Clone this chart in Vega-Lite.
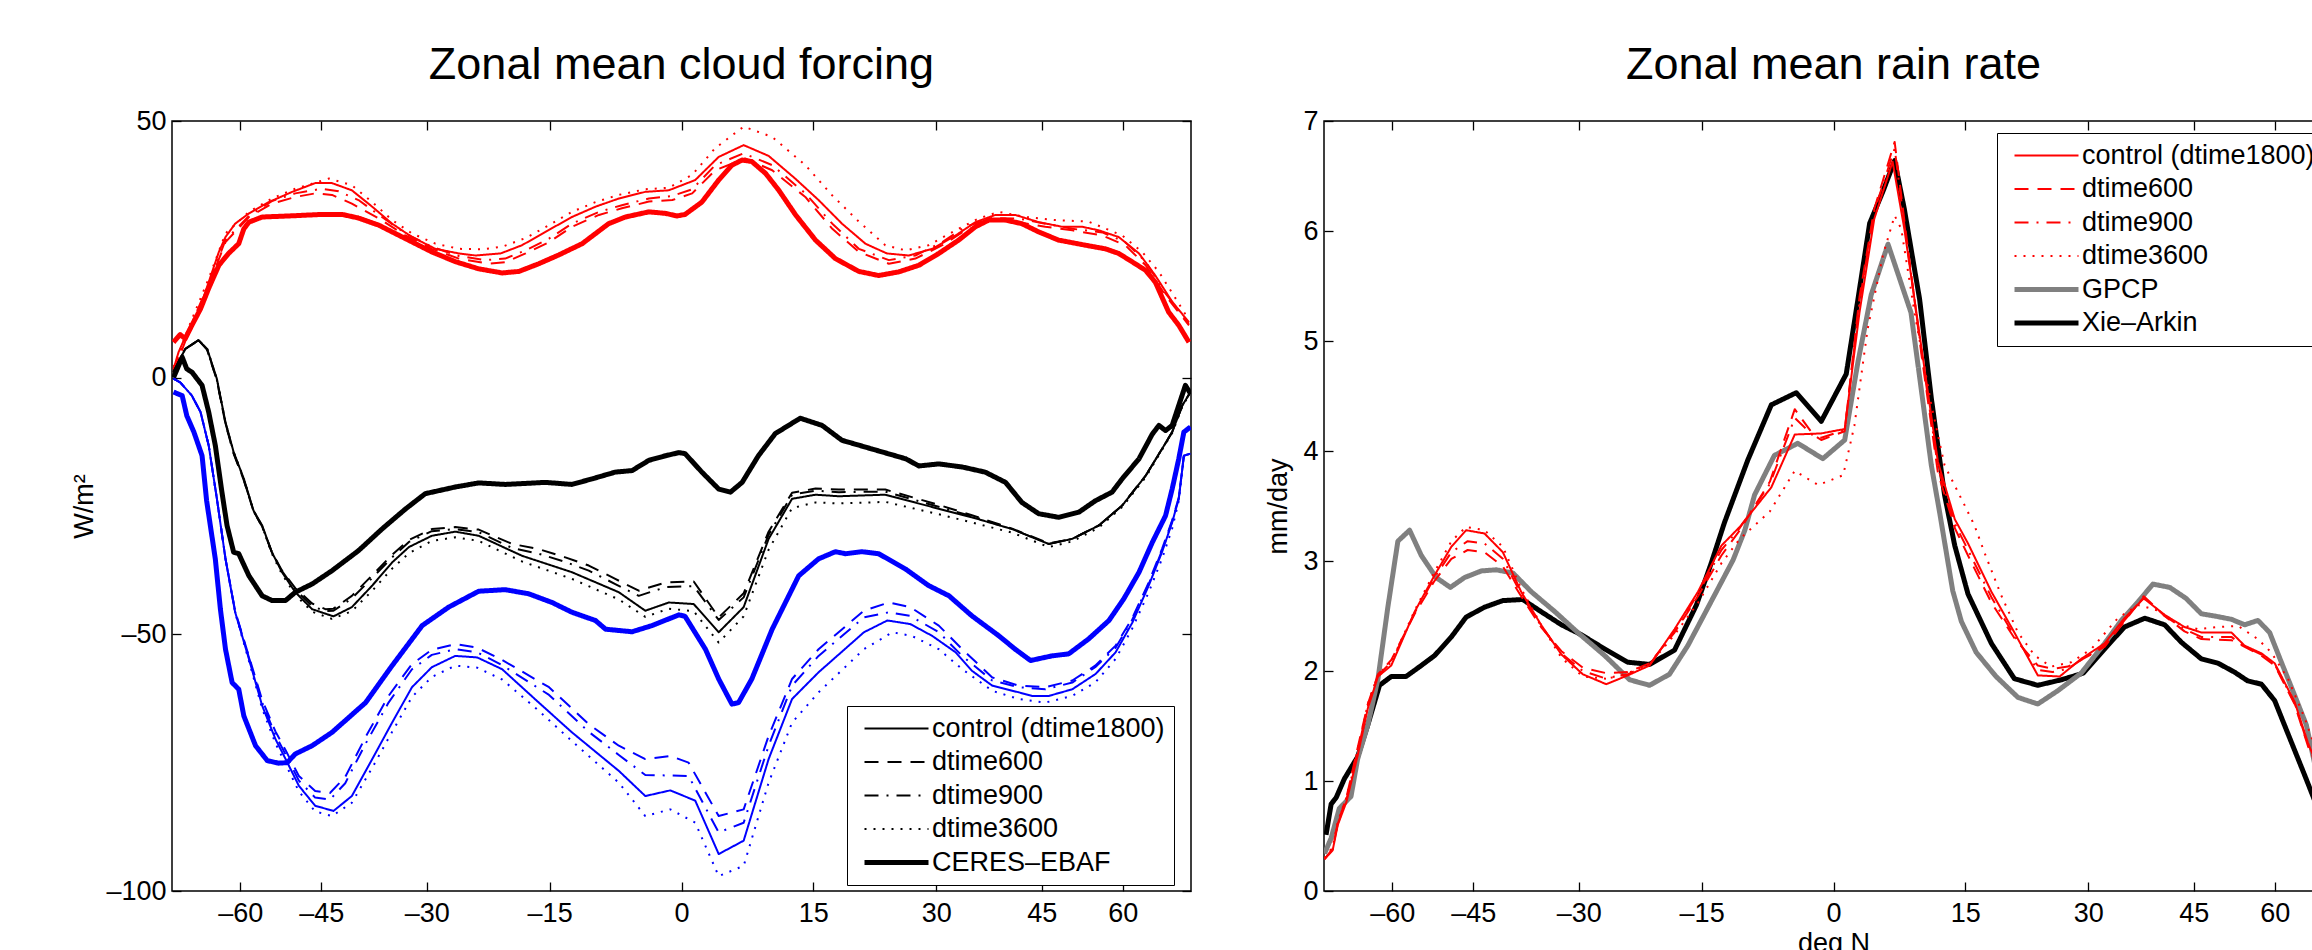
{
"$schema": "https://vega.github.io/schema/vega-lite/v6.json",
"background": "white",
"padding": {"left": 70, "top": 42, "right": 0, "bottom": 0},
"spacing": 133,
"bounds": "flush",
"resolve": {"scale": {"color": "independent", "strokeDash": "independent", "strokeWidth": "independent"}, "legend": {"color": "independent", "strokeDash": "independent", "strokeWidth": "independent"}},
"config": {
  "font": "Liberation Sans",
  "view": {"stroke": "black", "strokeWidth": 1.5},
  "axis": {"grid": false, "domain": false, "tickColor": "black", "tickWidth": 1.3, "tickSize": -9, "labelFont": "Liberation Sans", "labelFontSize": 27, "labelColor": "black", "titleFont": "Liberation Sans", "titleFontSize": 27, "titleFontWeight": "normal", "titleColor": "black", "labelOverlap": false, "labelFlush": false},
  "title": {"font": "Liberation Sans", "fontSize": 45, "fontWeight": "normal", "color": "black", "anchor": "middle", "offset": 19},
  "legend": {"orient": "none", "title": null, "symbolType": "stroke", "symbolSize": 4096, "labelFont": "Liberation Sans", "labelFontSize": 27, "labelColor": "black", "clipHeight": 27, "rowPadding": 5.5, "padding": 9, "strokeColor": "black", "fillColor": "white", "symbolOffset": 6, "labelOffset": 1, "labelLimit": 0}
},
"datasets": {
"cf": [
{"var":"LW","run":"CERES–EBAF","sin_lat":-0.997,"value":6.9},{"var":"LW","run":"CERES–EBAF","sin_lat":-0.984,"value":8.4},{"var":"LW","run":"CERES–EBAF","sin_lat":-0.974,"value":7.6},{"var":"LW","run":"CERES–EBAF","sin_lat":-0.961,"value":10.2},{"var":"LW","run":"CERES–EBAF","sin_lat":-0.944,"value":13.4},{"var":"LW","run":"CERES–EBAF","sin_lat":-0.928,"value":17.4},{"var":"LW","run":"CERES–EBAF","sin_lat":-0.908,"value":21.9},{"var":"LW","run":"CERES–EBAF","sin_lat":-0.889,"value":24.2},{"var":"LW","run":"CERES–EBAF","sin_lat":-0.869,"value":26.1},{"var":"LW","run":"CERES–EBAF","sin_lat":-0.859,"value":29.0},{"var":"LW","run":"CERES–EBAF","sin_lat":-0.849,"value":30.3},{"var":"LW","run":"CERES–EBAF","sin_lat":-0.823,"value":31.3},{"var":"LW","run":"CERES–EBAF","sin_lat":-0.771,"value":31.5},{"var":"LW","run":"CERES–EBAF","sin_lat":-0.706,"value":31.8},{"var":"LW","run":"CERES–EBAF","sin_lat":-0.666,"value":31.8},{"var":"LW","run":"CERES–EBAF","sin_lat":-0.634,"value":31.1},{"var":"LW","run":"CERES–EBAF","sin_lat":-0.594,"value":29.7},{"var":"LW","run":"CERES–EBAF","sin_lat":-0.542,"value":27.1},{"var":"LW","run":"CERES–EBAF","sin_lat":-0.490,"value":24.5},{"var":"LW","run":"CERES–EBAF","sin_lat":-0.444,"value":22.6},{"var":"LW","run":"CERES–EBAF","sin_lat":-0.398,"value":21.2},{"var":"LW","run":"CERES–EBAF","sin_lat":-0.352,"value":20.4},{"var":"LW","run":"CERES–EBAF","sin_lat":-0.319,"value":20.7},{"var":"LW","run":"CERES–EBAF","sin_lat":-0.280,"value":22.2},{"var":"LW","run":"CERES–EBAF","sin_lat":-0.241,"value":23.9},{"var":"LW","run":"CERES–EBAF","sin_lat":-0.195,"value":26.1},{"var":"LW","run":"CERES–EBAF","sin_lat":-0.143,"value":30.0},{"var":"LW","run":"CERES–EBAF","sin_lat":-0.110,"value":31.3},{"var":"LW","run":"CERES–EBAF","sin_lat":-0.064,"value":32.3},{"var":"LW","run":"CERES–EBAF","sin_lat":-0.031,"value":32.0},{"var":"LW","run":"CERES–EBAF","sin_lat":-0.009,"value":31.5},{"var":"LW","run":"CERES–EBAF","sin_lat":0.007,"value":31.8},{"var":"LW","run":"CERES–EBAF","sin_lat":0.040,"value":34.2},{"var":"LW","run":"CERES–EBAF","sin_lat":0.073,"value":38.5},{"var":"LW","run":"CERES–EBAF","sin_lat":0.099,"value":41.4},{"var":"LW","run":"CERES–EBAF","sin_lat":0.119,"value":42.4},{"var":"LW","run":"CERES–EBAF","sin_lat":0.138,"value":42.1},{"var":"LW","run":"CERES–EBAF","sin_lat":0.165,"value":39.8},{"var":"LW","run":"CERES–EBAF","sin_lat":0.191,"value":36.5},{"var":"LW","run":"CERES–EBAF","sin_lat":0.224,"value":31.7},{"var":"LW","run":"CERES–EBAF","sin_lat":0.263,"value":26.8},{"var":"LW","run":"CERES–EBAF","sin_lat":0.302,"value":23.2},{"var":"LW","run":"CERES–EBAF","sin_lat":0.348,"value":20.7},{"var":"LW","run":"CERES–EBAF","sin_lat":0.387,"value":19.9},{"var":"LW","run":"CERES–EBAF","sin_lat":0.426,"value":20.6},{"var":"LW","run":"CERES–EBAF","sin_lat":0.466,"value":21.9},{"var":"LW","run":"CERES–EBAF","sin_lat":0.505,"value":24.2},{"var":"LW","run":"CERES–EBAF","sin_lat":0.544,"value":26.8},{"var":"LW","run":"CERES–EBAF","sin_lat":0.577,"value":29.4},{"var":"LW","run":"CERES–EBAF","sin_lat":0.603,"value":30.7},{"var":"LW","run":"CERES–EBAF","sin_lat":0.636,"value":30.7},{"var":"LW","run":"CERES–EBAF","sin_lat":0.668,"value":30.0},{"var":"LW","run":"CERES–EBAF","sin_lat":0.701,"value":28.4},{"var":"LW","run":"CERES–EBAF","sin_lat":0.740,"value":26.8},{"var":"LW","run":"CERES–EBAF","sin_lat":0.793,"value":25.8},{"var":"LW","run":"CERES–EBAF","sin_lat":0.832,"value":25.1},{"var":"LW","run":"CERES–EBAF","sin_lat":0.858,"value":24.2},{"var":"LW","run":"CERES–EBAF","sin_lat":0.884,"value":22.6},{"var":"LW","run":"CERES–EBAF","sin_lat":0.911,"value":20.9},{"var":"LW","run":"CERES–EBAF","sin_lat":0.930,"value":18.6},{"var":"LW","run":"CERES–EBAF","sin_lat":0.956,"value":12.8},{"var":"LW","run":"CERES–EBAF","sin_lat":0.976,"value":10.2},{"var":"LW","run":"CERES–EBAF","sin_lat":0.996,"value":6.9},
{"var":"LW","run":"control (dtime1800)","sin_lat":-0.997,"value":1.7},{"var":"LW","run":"control (dtime1800)","sin_lat":-0.987,"value":5.0},{"var":"LW","run":"control (dtime1800)","sin_lat":-0.967,"value":9.5},{"var":"LW","run":"control (dtime1800)","sin_lat":-0.948,"value":12.8},{"var":"LW","run":"control (dtime1800)","sin_lat":-0.928,"value":18.6},{"var":"LW","run":"control (dtime1800)","sin_lat":-0.908,"value":24.5},{"var":"LW","run":"control (dtime1800)","sin_lat":-0.895,"value":27.4},{"var":"LW","run":"control (dtime1800)","sin_lat":-0.876,"value":30.0},{"var":"LW","run":"control (dtime1800)","sin_lat":-0.849,"value":32.0},{"var":"LW","run":"control (dtime1800)","sin_lat":-0.810,"value":34.2},{"var":"LW","run":"control (dtime1800)","sin_lat":-0.764,"value":36.2},{"var":"LW","run":"control (dtime1800)","sin_lat":-0.719,"value":37.9},{"var":"LW","run":"control (dtime1800)","sin_lat":-0.686,"value":37.9},{"var":"LW","run":"control (dtime1800)","sin_lat":-0.647,"value":36.5},{"var":"LW","run":"control (dtime1800)","sin_lat":-0.607,"value":33.3},{"var":"LW","run":"control (dtime1800)","sin_lat":-0.568,"value":30.0},{"var":"LW","run":"control (dtime1800)","sin_lat":-0.529,"value":27.4},{"var":"LW","run":"control (dtime1800)","sin_lat":-0.483,"value":25.1},{"var":"LW","run":"control (dtime1800)","sin_lat":-0.437,"value":24.2},{"var":"LW","run":"control (dtime1800)","sin_lat":-0.404,"value":23.8},{"var":"LW","run":"control (dtime1800)","sin_lat":-0.355,"value":24.2},{"var":"LW","run":"control (dtime1800)","sin_lat":-0.313,"value":25.8},{"var":"LW","run":"control (dtime1800)","sin_lat":-0.267,"value":28.4},{"var":"LW","run":"control (dtime1800)","sin_lat":-0.215,"value":31.3},{"var":"LW","run":"control (dtime1800)","sin_lat":-0.169,"value":33.3},{"var":"LW","run":"control (dtime1800)","sin_lat":-0.123,"value":34.9},{"var":"LW","run":"control (dtime1800)","sin_lat":-0.071,"value":36.2},{"var":"LW","run":"control (dtime1800)","sin_lat":-0.025,"value":36.5},{"var":"LW","run":"control (dtime1800)","sin_lat":0.027,"value":38.5},{"var":"LW","run":"control (dtime1800)","sin_lat":0.073,"value":43.0},{"var":"LW","run":"control (dtime1800)","sin_lat":0.122,"value":45.3},{"var":"LW","run":"control (dtime1800)","sin_lat":0.171,"value":43.2},{"var":"LW","run":"control (dtime1800)","sin_lat":0.223,"value":38.8},{"var":"LW","run":"control (dtime1800)","sin_lat":0.269,"value":34.6},{"var":"LW","run":"control (dtime1800)","sin_lat":0.315,"value":30.0},{"var":"LW","run":"control (dtime1800)","sin_lat":0.361,"value":26.1},{"var":"LW","run":"control (dtime1800)","sin_lat":0.403,"value":24.2},{"var":"LW","run":"control (dtime1800)","sin_lat":0.446,"value":23.8},{"var":"LW","run":"control (dtime1800)","sin_lat":0.492,"value":25.1},{"var":"LW","run":"control (dtime1800)","sin_lat":0.538,"value":27.7},{"var":"LW","run":"control (dtime1800)","sin_lat":0.577,"value":30.3},{"var":"LW","run":"control (dtime1800)","sin_lat":0.616,"value":31.7},{"var":"LW","run":"control (dtime1800)","sin_lat":0.655,"value":31.7},{"var":"LW","run":"control (dtime1800)","sin_lat":0.701,"value":30.3},{"var":"LW","run":"control (dtime1800)","sin_lat":0.747,"value":29.4},{"var":"LW","run":"control (dtime1800)","sin_lat":0.786,"value":29.4},{"var":"LW","run":"control (dtime1800)","sin_lat":0.819,"value":28.7},{"var":"LW","run":"control (dtime1800)","sin_lat":0.858,"value":27.4},{"var":"LW","run":"control (dtime1800)","sin_lat":0.898,"value":24.2},{"var":"LW","run":"control (dtime1800)","sin_lat":0.930,"value":19.9},{"var":"LW","run":"control (dtime1800)","sin_lat":0.963,"value":14.8},{"var":"LW","run":"control (dtime1800)","sin_lat":0.996,"value":10.8},
{"var":"LW","run":"dtime600","sin_lat":-0.997,"value":1.1},{"var":"LW","run":"dtime600","sin_lat":-0.967,"value":8.9},{"var":"LW","run":"dtime600","sin_lat":-0.928,"value":18.0},{"var":"LW","run":"dtime600","sin_lat":-0.895,"value":26.4},{"var":"LW","run":"dtime600","sin_lat":-0.849,"value":31.3},{"var":"LW","run":"dtime600","sin_lat":-0.804,"value":33.9},{"var":"LW","run":"dtime600","sin_lat":-0.758,"value":35.2},{"var":"LW","run":"dtime600","sin_lat":-0.719,"value":35.9},{"var":"LW","run":"dtime600","sin_lat":-0.686,"value":35.6},{"var":"LW","run":"dtime600","sin_lat":-0.647,"value":33.9},{"var":"LW","run":"dtime600","sin_lat":-0.594,"value":31.0},{"var":"LW","run":"dtime600","sin_lat":-0.542,"value":27.7},{"var":"LW","run":"dtime600","sin_lat":-0.490,"value":25.1},{"var":"LW","run":"dtime600","sin_lat":-0.437,"value":23.2},{"var":"LW","run":"dtime600","sin_lat":-0.378,"value":22.2},{"var":"LW","run":"dtime600","sin_lat":-0.346,"value":22.5},{"var":"LW","run":"dtime600","sin_lat":-0.306,"value":24.2},{"var":"LW","run":"dtime600","sin_lat":-0.260,"value":26.4},{"var":"LW","run":"dtime600","sin_lat":-0.215,"value":29.4},{"var":"LW","run":"dtime600","sin_lat":-0.162,"value":31.7},{"var":"LW","run":"dtime600","sin_lat":-0.117,"value":33.0},{"var":"LW","run":"dtime600","sin_lat":-0.064,"value":34.3},{"var":"LW","run":"dtime600","sin_lat":-0.018,"value":34.6},{"var":"LW","run":"dtime600","sin_lat":0.021,"value":35.9},{"var":"LW","run":"dtime600","sin_lat":0.066,"value":40.4},{"var":"LW","run":"dtime600","sin_lat":0.125,"value":42.7},{"var":"LW","run":"dtime600","sin_lat":0.178,"value":40.4},{"var":"LW","run":"dtime600","sin_lat":0.243,"value":35.2},{"var":"LW","run":"dtime600","sin_lat":0.296,"value":29.0},{"var":"LW","run":"dtime600","sin_lat":0.348,"value":24.5},{"var":"LW","run":"dtime600","sin_lat":0.407,"value":22.2},{"var":"LW","run":"dtime600","sin_lat":0.459,"value":23.2},{"var":"LW","run":"dtime600","sin_lat":0.512,"value":25.8},{"var":"LW","run":"dtime600","sin_lat":0.557,"value":28.7},{"var":"LW","run":"dtime600","sin_lat":0.610,"value":30.7},{"var":"LW","run":"dtime600","sin_lat":0.662,"value":30.3},{"var":"LW","run":"dtime600","sin_lat":0.714,"value":29.4},{"var":"LW","run":"dtime600","sin_lat":0.767,"value":28.7},{"var":"LW","run":"dtime600","sin_lat":0.826,"value":27.7},{"var":"LW","run":"dtime600","sin_lat":0.871,"value":25.8},{"var":"LW","run":"dtime600","sin_lat":0.911,"value":21.9},{"var":"LW","run":"dtime600","sin_lat":0.950,"value":16.0},{"var":"LW","run":"dtime600","sin_lat":0.996,"value":10.2},
{"var":"LW","run":"dtime900","sin_lat":-0.997,"value":1.4},{"var":"LW","run":"dtime900","sin_lat":-0.967,"value":9.2},{"var":"LW","run":"dtime900","sin_lat":-0.928,"value":18.3},{"var":"LW","run":"dtime900","sin_lat":-0.895,"value":26.8},{"var":"LW","run":"dtime900","sin_lat":-0.849,"value":31.5},{"var":"LW","run":"dtime900","sin_lat":-0.804,"value":34.4},{"var":"LW","run":"dtime900","sin_lat":-0.758,"value":35.9},{"var":"LW","run":"dtime900","sin_lat":-0.706,"value":36.8},{"var":"LW","run":"dtime900","sin_lat":-0.673,"value":36.3},{"var":"LW","run":"dtime900","sin_lat":-0.634,"value":34.6},{"var":"LW","run":"dtime900","sin_lat":-0.588,"value":31.3},{"var":"LW","run":"dtime900","sin_lat":-0.542,"value":28.1},{"var":"LW","run":"dtime900","sin_lat":-0.490,"value":25.5},{"var":"LW","run":"dtime900","sin_lat":-0.437,"value":23.7},{"var":"LW","run":"dtime900","sin_lat":-0.385,"value":22.9},{"var":"LW","run":"dtime900","sin_lat":-0.346,"value":23.2},{"var":"LW","run":"dtime900","sin_lat":-0.306,"value":24.8},{"var":"LW","run":"dtime900","sin_lat":-0.260,"value":27.1},{"var":"LW","run":"dtime900","sin_lat":-0.215,"value":30.0},{"var":"LW","run":"dtime900","sin_lat":-0.162,"value":32.3},{"var":"LW","run":"dtime900","sin_lat":-0.117,"value":33.6},{"var":"LW","run":"dtime900","sin_lat":-0.064,"value":34.9},{"var":"LW","run":"dtime900","sin_lat":-0.018,"value":35.4},{"var":"LW","run":"dtime900","sin_lat":0.021,"value":36.7},{"var":"LW","run":"dtime900","sin_lat":0.066,"value":41.4},{"var":"LW","run":"dtime900","sin_lat":0.122,"value":43.7},{"var":"LW","run":"dtime900","sin_lat":0.178,"value":41.4},{"var":"LW","run":"dtime900","sin_lat":0.243,"value":35.9},{"var":"LW","run":"dtime900","sin_lat":0.296,"value":30.0},{"var":"LW","run":"dtime900","sin_lat":0.348,"value":25.1},{"var":"LW","run":"dtime900","sin_lat":0.407,"value":22.9},{"var":"LW","run":"dtime900","sin_lat":0.459,"value":23.8},{"var":"LW","run":"dtime900","sin_lat":0.512,"value":26.4},{"var":"LW","run":"dtime900","sin_lat":0.557,"value":29.4},{"var":"LW","run":"dtime900","sin_lat":0.610,"value":31.1},{"var":"LW","run":"dtime900","sin_lat":0.662,"value":31.0},{"var":"LW","run":"dtime900","sin_lat":0.714,"value":30.0},{"var":"LW","run":"dtime900","sin_lat":0.767,"value":29.0},{"var":"LW","run":"dtime900","sin_lat":0.826,"value":28.3},{"var":"LW","run":"dtime900","sin_lat":0.871,"value":26.4},{"var":"LW","run":"dtime900","sin_lat":0.911,"value":22.6},{"var":"LW","run":"dtime900","sin_lat":0.950,"value":16.4},{"var":"LW","run":"dtime900","sin_lat":0.996,"value":10.5},
{"var":"LW","run":"dtime3600","sin_lat":-0.997,"value":2.1},{"var":"LW","run":"dtime3600","sin_lat":-0.967,"value":9.9},{"var":"LW","run":"dtime3600","sin_lat":-0.928,"value":19.3},{"var":"LW","run":"dtime3600","sin_lat":-0.895,"value":28.1},{"var":"LW","run":"dtime3600","sin_lat":-0.849,"value":32.3},{"var":"LW","run":"dtime3600","sin_lat":-0.804,"value":34.9},{"var":"LW","run":"dtime3600","sin_lat":-0.758,"value":36.8},{"var":"LW","run":"dtime3600","sin_lat":-0.692,"value":38.8},{"var":"LW","run":"dtime3600","sin_lat":-0.647,"value":37.5},{"var":"LW","run":"dtime3600","sin_lat":-0.607,"value":34.2},{"var":"LW","run":"dtime3600","sin_lat":-0.568,"value":30.7},{"var":"LW","run":"dtime3600","sin_lat":-0.529,"value":28.1},{"var":"LW","run":"dtime3600","sin_lat":-0.483,"value":26.1},{"var":"LW","run":"dtime3600","sin_lat":-0.437,"value":25.1},{"var":"LW","run":"dtime3600","sin_lat":-0.391,"value":25.0},{"var":"LW","run":"dtime3600","sin_lat":-0.352,"value":25.5},{"var":"LW","run":"dtime3600","sin_lat":-0.306,"value":27.2},{"var":"LW","run":"dtime3600","sin_lat":-0.260,"value":29.7},{"var":"LW","run":"dtime3600","sin_lat":-0.215,"value":32.3},{"var":"LW","run":"dtime3600","sin_lat":-0.169,"value":34.2},{"var":"LW","run":"dtime3600","sin_lat":-0.123,"value":35.6},{"var":"LW","run":"dtime3600","sin_lat":-0.071,"value":36.7},{"var":"LW","run":"dtime3600","sin_lat":-0.025,"value":37.0},{"var":"LW","run":"dtime3600","sin_lat":0.021,"value":39.5},{"var":"LW","run":"dtime3600","sin_lat":0.066,"value":44.7},{"var":"LW","run":"dtime3600","sin_lat":0.122,"value":48.9},{"var":"LW","run":"dtime3600","sin_lat":0.178,"value":46.9},{"var":"LW","run":"dtime3600","sin_lat":0.243,"value":41.4},{"var":"LW","run":"dtime3600","sin_lat":0.295,"value":35.6},{"var":"LW","run":"dtime3600","sin_lat":0.348,"value":30.4},{"var":"LW","run":"dtime3600","sin_lat":0.400,"value":25.8},{"var":"LW","run":"dtime3600","sin_lat":0.440,"value":24.8},{"var":"LW","run":"dtime3600","sin_lat":0.485,"value":25.8},{"var":"LW","run":"dtime3600","sin_lat":0.538,"value":28.7},{"var":"LW","run":"dtime3600","sin_lat":0.583,"value":31.0},{"var":"LW","run":"dtime3600","sin_lat":0.623,"value":32.3},{"var":"LW","run":"dtime3600","sin_lat":0.675,"value":31.3},{"var":"LW","run":"dtime3600","sin_lat":0.734,"value":30.7},{"var":"LW","run":"dtime3600","sin_lat":0.799,"value":30.4},{"var":"LW","run":"dtime3600","sin_lat":0.865,"value":27.7},{"var":"LW","run":"dtime3600","sin_lat":0.904,"value":24.5},{"var":"LW","run":"dtime3600","sin_lat":0.937,"value":20.6},{"var":"LW","run":"dtime3600","sin_lat":0.970,"value":15.4},{"var":"LW","run":"dtime3600","sin_lat":0.996,"value":11.2},
{"var":"net","run":"CERES–EBAF","sin_lat":-0.997,"value":0.0},{"var":"net","run":"CERES–EBAF","sin_lat":-0.980,"value":4.0},{"var":"net","run":"CERES–EBAF","sin_lat":-0.971,"value":1.7},{"var":"net","run":"CERES–EBAF","sin_lat":-0.961,"value":1.1},{"var":"net","run":"CERES–EBAF","sin_lat":-0.941,"value":-1.5},{"var":"net","run":"CERES–EBAF","sin_lat":-0.928,"value":-6.7},{"var":"net","run":"CERES–EBAF","sin_lat":-0.915,"value":-13.2},{"var":"net","run":"CERES–EBAF","sin_lat":-0.902,"value":-22.3},{"var":"net","run":"CERES–EBAF","sin_lat":-0.892,"value":-28.8},{"var":"net","run":"CERES–EBAF","sin_lat":-0.879,"value":-34.0},{"var":"net","run":"CERES–EBAF","sin_lat":-0.869,"value":-34.3},{"var":"net","run":"CERES–EBAF","sin_lat":-0.849,"value":-38.6},{"var":"net","run":"CERES–EBAF","sin_lat":-0.823,"value":-42.5},{"var":"net","run":"CERES–EBAF","sin_lat":-0.804,"value":-43.4},{"var":"net","run":"CERES–EBAF","sin_lat":-0.777,"value":-43.4},{"var":"net","run":"CERES–EBAF","sin_lat":-0.758,"value":-41.8},{"var":"net","run":"CERES–EBAF","sin_lat":-0.725,"value":-40.2},{"var":"net","run":"CERES–EBAF","sin_lat":-0.686,"value":-37.6},{"var":"net","run":"CERES–EBAF","sin_lat":-0.634,"value":-33.7},{"var":"net","run":"CERES–EBAF","sin_lat":-0.588,"value":-29.5},{"var":"net","run":"CERES–EBAF","sin_lat":-0.542,"value":-25.6},{"var":"net","run":"CERES–EBAF","sin_lat":-0.503,"value":-22.6},{"var":"net","run":"CERES–EBAF","sin_lat":-0.444,"value":-21.3},{"var":"net","run":"CERES–EBAF","sin_lat":-0.398,"value":-20.5},{"var":"net","run":"CERES–EBAF","sin_lat":-0.346,"value":-20.8},{"var":"net","run":"CERES–EBAF","sin_lat":-0.267,"value":-20.4},{"var":"net","run":"CERES–EBAF","sin_lat":-0.215,"value":-20.8},{"var":"net","run":"CERES–EBAF","sin_lat":-0.175,"value":-19.7},{"var":"net","run":"CERES–EBAF","sin_lat":-0.130,"value":-18.4},{"var":"net","run":"CERES–EBAF","sin_lat":-0.097,"value":-18.1},{"var":"net","run":"CERES–EBAF","sin_lat":-0.064,"value":-16.1},{"var":"net","run":"CERES–EBAF","sin_lat":-0.031,"value":-15.2},{"var":"net","run":"CERES–EBAF","sin_lat":-0.005,"value":-14.6},{"var":"net","run":"CERES–EBAF","sin_lat":0.007,"value":-14.8},{"var":"net","run":"CERES–EBAF","sin_lat":0.040,"value":-18.4},{"var":"net","run":"CERES–EBAF","sin_lat":0.073,"value":-21.7},{"var":"net","run":"CERES–EBAF","sin_lat":0.096,"value":-22.3},{"var":"net","run":"CERES–EBAF","sin_lat":0.119,"value":-20.4},{"var":"net","run":"CERES–EBAF","sin_lat":0.151,"value":-15.2},{"var":"net","run":"CERES–EBAF","sin_lat":0.184,"value":-10.9},{"var":"net","run":"CERES–EBAF","sin_lat":0.233,"value":-7.9},{"var":"net","run":"CERES–EBAF","sin_lat":0.276,"value":-9.3},{"var":"net","run":"CERES–EBAF","sin_lat":0.315,"value":-12.2},{"var":"net","run":"CERES–EBAF","sin_lat":0.374,"value":-13.9},{"var":"net","run":"CERES–EBAF","sin_lat":0.440,"value":-15.8},{"var":"net","run":"CERES–EBAF","sin_lat":0.466,"value":-17.2},{"var":"net","run":"CERES–EBAF","sin_lat":0.505,"value":-16.8},{"var":"net","run":"CERES–EBAF","sin_lat":0.551,"value":-17.4},{"var":"net","run":"CERES–EBAF","sin_lat":0.596,"value":-18.4},{"var":"net","run":"CERES–EBAF","sin_lat":0.636,"value":-20.4},{"var":"net","run":"CERES–EBAF","sin_lat":0.668,"value":-24.3},{"var":"net","run":"CERES–EBAF","sin_lat":0.701,"value":-26.5},{"var":"net","run":"CERES–EBAF","sin_lat":0.740,"value":-27.2},{"var":"net","run":"CERES–EBAF","sin_lat":0.780,"value":-26.2},{"var":"net","run":"CERES–EBAF","sin_lat":0.812,"value":-24.0},{"var":"net","run":"CERES–EBAF","sin_lat":0.845,"value":-22.3},{"var":"net","run":"CERES–EBAF","sin_lat":0.865,"value":-19.7},{"var":"net","run":"CERES–EBAF","sin_lat":0.898,"value":-15.8},{"var":"net","run":"CERES–EBAF","sin_lat":0.924,"value":-11.0},{"var":"net","run":"CERES–EBAF","sin_lat":0.937,"value":-9.3},{"var":"net","run":"CERES–EBAF","sin_lat":0.950,"value":-10.3},{"var":"net","run":"CERES–EBAF","sin_lat":0.963,"value":-9.3},{"var":"net","run":"CERES–EBAF","sin_lat":0.976,"value":-5.4},{"var":"net","run":"CERES–EBAF","sin_lat":0.989,"value":-1.5},{"var":"net","run":"CERES–EBAF","sin_lat":0.999,"value":-3.1},
{"var":"net","run":"control (dtime1800)","sin_lat":-0.997,"value":1.1},{"var":"net","run":"control (dtime1800)","sin_lat":-0.974,"value":5.6},{"var":"net","run":"control (dtime1800)","sin_lat":-0.948,"value":7.3},{"var":"net","run":"control (dtime1800)","sin_lat":-0.931,"value":5.6},{"var":"net","run":"control (dtime1800)","sin_lat":-0.912,"value":-0.2},{"var":"net","run":"control (dtime1800)","sin_lat":-0.895,"value":-8.7},{"var":"net","run":"control (dtime1800)","sin_lat":-0.879,"value":-14.5},{"var":"net","run":"control (dtime1800)","sin_lat":-0.859,"value":-19.7},{"var":"net","run":"control (dtime1800)","sin_lat":-0.840,"value":-25.9},{"var":"net","run":"control (dtime1800)","sin_lat":-0.823,"value":-28.8},{"var":"net","run":"control (dtime1800)","sin_lat":-0.804,"value":-34.0},{"var":"net","run":"control (dtime1800)","sin_lat":-0.784,"value":-37.9},{"var":"net","run":"control (dtime1800)","sin_lat":-0.758,"value":-41.8},{"var":"net","run":"control (dtime1800)","sin_lat":-0.725,"value":-45.1},{"var":"net","run":"control (dtime1800)","sin_lat":-0.683,"value":-46.5},{"var":"net","run":"control (dtime1800)","sin_lat":-0.647,"value":-44.7},{"var":"net","run":"control (dtime1800)","sin_lat":-0.607,"value":-40.5},{"var":"net","run":"control (dtime1800)","sin_lat":-0.568,"value":-36.0},{"var":"net","run":"control (dtime1800)","sin_lat":-0.535,"value":-33.0},{"var":"net","run":"control (dtime1800)","sin_lat":-0.490,"value":-30.8},{"var":"net","run":"control (dtime1800)","sin_lat":-0.444,"value":-30.0},{"var":"net","run":"control (dtime1800)","sin_lat":-0.398,"value":-30.8},{"var":"net","run":"control (dtime1800)","sin_lat":-0.313,"value":-34.7},{"var":"net","run":"control (dtime1800)","sin_lat":-0.215,"value":-37.9},{"var":"net","run":"control (dtime1800)","sin_lat":-0.123,"value":-41.8},{"var":"net","run":"control (dtime1800)","sin_lat":-0.071,"value":-45.4},{"var":"net","run":"control (dtime1800)","sin_lat":-0.025,"value":-43.8},{"var":"net","run":"control (dtime1800)","sin_lat":0.024,"value":-44.1},{"var":"net","run":"control (dtime1800)","sin_lat":0.073,"value":-49.6},{"var":"net","run":"control (dtime1800)","sin_lat":0.122,"value":-44.7},{"var":"net","run":"control (dtime1800)","sin_lat":0.171,"value":-31.4},{"var":"net","run":"control (dtime1800)","sin_lat":0.217,"value":-23.6},{"var":"net","run":"control (dtime1800)","sin_lat":0.263,"value":-22.8},{"var":"net","run":"control (dtime1800)","sin_lat":0.309,"value":-23.1},{"var":"net","run":"control (dtime1800)","sin_lat":0.400,"value":-22.8},{"var":"net","run":"control (dtime1800)","sin_lat":0.492,"value":-25.2},{"var":"net","run":"control (dtime1800)","sin_lat":0.570,"value":-27.2},{"var":"net","run":"control (dtime1800)","sin_lat":0.649,"value":-29.5},{"var":"net","run":"control (dtime1800)","sin_lat":0.721,"value":-32.4},{"var":"net","run":"control (dtime1800)","sin_lat":0.767,"value":-31.4},{"var":"net","run":"control (dtime1800)","sin_lat":0.819,"value":-28.8},{"var":"net","run":"control (dtime1800)","sin_lat":0.865,"value":-24.9},{"var":"net","run":"control (dtime1800)","sin_lat":0.911,"value":-19.1},{"var":"net","run":"control (dtime1800)","sin_lat":0.943,"value":-13.9},{"var":"net","run":"control (dtime1800)","sin_lat":0.963,"value":-10.6},{"var":"net","run":"control (dtime1800)","sin_lat":0.983,"value":-5.4},{"var":"net","run":"control (dtime1800)","sin_lat":0.999,"value":-2.8},
{"var":"net","run":"dtime600","sin_lat":-0.997,"value":1.1},{"var":"net","run":"dtime600","sin_lat":-0.974,"value":5.6},{"var":"net","run":"dtime600","sin_lat":-0.948,"value":7.3},{"var":"net","run":"dtime600","sin_lat":-0.931,"value":5.4},{"var":"net","run":"dtime600","sin_lat":-0.912,"value":-0.5},{"var":"net","run":"dtime600","sin_lat":-0.895,"value":-9.0},{"var":"net","run":"dtime600","sin_lat":-0.879,"value":-14.8},{"var":"net","run":"dtime600","sin_lat":-0.859,"value":-20.0},{"var":"net","run":"dtime600","sin_lat":-0.840,"value":-26.0},{"var":"net","run":"dtime600","sin_lat":-0.823,"value":-29.0},{"var":"net","run":"dtime600","sin_lat":-0.804,"value":-34.0},{"var":"net","run":"dtime600","sin_lat":-0.784,"value":-37.6},{"var":"net","run":"dtime600","sin_lat":-0.758,"value":-41.0},{"var":"net","run":"dtime600","sin_lat":-0.725,"value":-44.0},{"var":"net","run":"dtime600","sin_lat":-0.699,"value":-45.1},{"var":"net","run":"dtime600","sin_lat":-0.683,"value":-45.0},{"var":"net","run":"dtime600","sin_lat":-0.647,"value":-42.5},{"var":"net","run":"dtime600","sin_lat":-0.607,"value":-38.5},{"var":"net","run":"dtime600","sin_lat":-0.568,"value":-34.5},{"var":"net","run":"dtime600","sin_lat":-0.535,"value":-31.6},{"var":"net","run":"dtime600","sin_lat":-0.490,"value":-29.5},{"var":"net","run":"dtime600","sin_lat":-0.444,"value":-29.1},{"var":"net","run":"dtime600","sin_lat":-0.398,"value":-29.6},{"var":"net","run":"dtime600","sin_lat":-0.332,"value":-32.4},{"var":"net","run":"dtime600","sin_lat":-0.280,"value":-33.4},{"var":"net","run":"dtime600","sin_lat":-0.228,"value":-35.0},{"var":"net","run":"dtime600","sin_lat":-0.182,"value":-36.6},{"var":"net","run":"dtime600","sin_lat":-0.130,"value":-39.2},{"var":"net","run":"dtime600","sin_lat":-0.084,"value":-41.5},{"var":"net","run":"dtime600","sin_lat":-0.031,"value":-39.9},{"var":"net","run":"dtime600","sin_lat":0.024,"value":-39.7},{"var":"net","run":"dtime600","sin_lat":0.073,"value":-46.7},{"var":"net","run":"dtime600","sin_lat":0.122,"value":-42.0},{"var":"net","run":"dtime600","sin_lat":0.171,"value":-30.0},{"var":"net","run":"dtime600","sin_lat":0.217,"value":-22.4},{"var":"net","run":"dtime600","sin_lat":0.263,"value":-21.6},{"var":"net","run":"dtime600","sin_lat":0.309,"value":-21.8},{"var":"net","run":"dtime600","sin_lat":0.400,"value":-21.8},{"var":"net","run":"dtime600","sin_lat":0.492,"value":-24.4},{"var":"net","run":"dtime600","sin_lat":0.570,"value":-26.8},{"var":"net","run":"dtime600","sin_lat":0.649,"value":-29.4},{"var":"net","run":"dtime600","sin_lat":0.721,"value":-32.3},{"var":"net","run":"dtime600","sin_lat":0.767,"value":-31.4},{"var":"net","run":"dtime600","sin_lat":0.819,"value":-28.8},{"var":"net","run":"dtime600","sin_lat":0.865,"value":-24.9},{"var":"net","run":"dtime600","sin_lat":0.911,"value":-19.1},{"var":"net","run":"dtime600","sin_lat":0.943,"value":-13.9},{"var":"net","run":"dtime600","sin_lat":0.963,"value":-10.6},{"var":"net","run":"dtime600","sin_lat":0.983,"value":-5.4},{"var":"net","run":"dtime600","sin_lat":0.999,"value":-2.8},
{"var":"net","run":"dtime900","sin_lat":-0.997,"value":1.1},{"var":"net","run":"dtime900","sin_lat":-0.974,"value":5.6},{"var":"net","run":"dtime900","sin_lat":-0.948,"value":7.3},{"var":"net","run":"dtime900","sin_lat":-0.931,"value":5.5},{"var":"net","run":"dtime900","sin_lat":-0.912,"value":-0.4},{"var":"net","run":"dtime900","sin_lat":-0.895,"value":-8.9},{"var":"net","run":"dtime900","sin_lat":-0.879,"value":-14.7},{"var":"net","run":"dtime900","sin_lat":-0.859,"value":-19.9},{"var":"net","run":"dtime900","sin_lat":-0.840,"value":-26.0},{"var":"net","run":"dtime900","sin_lat":-0.823,"value":-29.0},{"var":"net","run":"dtime900","sin_lat":-0.804,"value":-34.0},{"var":"net","run":"dtime900","sin_lat":-0.784,"value":-37.7},{"var":"net","run":"dtime900","sin_lat":-0.758,"value":-41.3},{"var":"net","run":"dtime900","sin_lat":-0.725,"value":-44.5},{"var":"net","run":"dtime900","sin_lat":-0.699,"value":-45.5},{"var":"net","run":"dtime900","sin_lat":-0.683,"value":-45.4},{"var":"net","run":"dtime900","sin_lat":-0.647,"value":-43.0},{"var":"net","run":"dtime900","sin_lat":-0.607,"value":-39.0},{"var":"net","run":"dtime900","sin_lat":-0.568,"value":-35.0},{"var":"net","run":"dtime900","sin_lat":-0.535,"value":-32.0},{"var":"net","run":"dtime900","sin_lat":-0.490,"value":-29.9},{"var":"net","run":"dtime900","sin_lat":-0.444,"value":-29.5},{"var":"net","run":"dtime900","sin_lat":-0.398,"value":-30.1},{"var":"net","run":"dtime900","sin_lat":-0.332,"value":-33.2},{"var":"net","run":"dtime900","sin_lat":-0.280,"value":-34.3},{"var":"net","run":"dtime900","sin_lat":-0.228,"value":-35.9},{"var":"net","run":"dtime900","sin_lat":-0.182,"value":-37.6},{"var":"net","run":"dtime900","sin_lat":-0.130,"value":-40.2},{"var":"net","run":"dtime900","sin_lat":-0.084,"value":-42.5},{"var":"net","run":"dtime900","sin_lat":-0.031,"value":-40.8},{"var":"net","run":"dtime900","sin_lat":0.024,"value":-40.6},{"var":"net","run":"dtime900","sin_lat":0.073,"value":-47.2},{"var":"net","run":"dtime900","sin_lat":0.122,"value":-42.8},{"var":"net","run":"dtime900","sin_lat":0.171,"value":-30.6},{"var":"net","run":"dtime900","sin_lat":0.217,"value":-22.8},{"var":"net","run":"dtime900","sin_lat":0.263,"value":-22.0},{"var":"net","run":"dtime900","sin_lat":0.309,"value":-22.3},{"var":"net","run":"dtime900","sin_lat":0.400,"value":-22.2},{"var":"net","run":"dtime900","sin_lat":0.492,"value":-24.8},{"var":"net","run":"dtime900","sin_lat":0.570,"value":-27.0},{"var":"net","run":"dtime900","sin_lat":0.649,"value":-29.5},{"var":"net","run":"dtime900","sin_lat":0.721,"value":-32.4},{"var":"net","run":"dtime900","sin_lat":0.767,"value":-31.4},{"var":"net","run":"dtime900","sin_lat":0.819,"value":-28.8},{"var":"net","run":"dtime900","sin_lat":0.865,"value":-24.9},{"var":"net","run":"dtime900","sin_lat":0.911,"value":-19.1},{"var":"net","run":"dtime900","sin_lat":0.943,"value":-13.9},{"var":"net","run":"dtime900","sin_lat":0.963,"value":-10.6},{"var":"net","run":"dtime900","sin_lat":0.983,"value":-5.4},{"var":"net","run":"dtime900","sin_lat":0.999,"value":-2.8},
{"var":"net","run":"dtime3600","sin_lat":-0.997,"value":1.1},{"var":"net","run":"dtime3600","sin_lat":-0.974,"value":5.6},{"var":"net","run":"dtime3600","sin_lat":-0.948,"value":7.3},{"var":"net","run":"dtime3600","sin_lat":-0.931,"value":5.6},{"var":"net","run":"dtime3600","sin_lat":-0.912,"value":-0.2},{"var":"net","run":"dtime3600","sin_lat":-0.895,"value":-8.7},{"var":"net","run":"dtime3600","sin_lat":-0.879,"value":-14.5},{"var":"net","run":"dtime3600","sin_lat":-0.859,"value":-19.7},{"var":"net","run":"dtime3600","sin_lat":-0.840,"value":-25.9},{"var":"net","run":"dtime3600","sin_lat":-0.823,"value":-29.0},{"var":"net","run":"dtime3600","sin_lat":-0.804,"value":-34.3},{"var":"net","run":"dtime3600","sin_lat":-0.784,"value":-38.3},{"var":"net","run":"dtime3600","sin_lat":-0.758,"value":-42.3},{"var":"net","run":"dtime3600","sin_lat":-0.725,"value":-45.6},{"var":"net","run":"dtime3600","sin_lat":-0.686,"value":-47.0},{"var":"net","run":"dtime3600","sin_lat":-0.647,"value":-45.5},{"var":"net","run":"dtime3600","sin_lat":-0.607,"value":-41.5},{"var":"net","run":"dtime3600","sin_lat":-0.568,"value":-37.2},{"var":"net","run":"dtime3600","sin_lat":-0.535,"value":-34.2},{"var":"net","run":"dtime3600","sin_lat":-0.490,"value":-31.8},{"var":"net","run":"dtime3600","sin_lat":-0.444,"value":-31.1},{"var":"net","run":"dtime3600","sin_lat":-0.398,"value":-31.8},{"var":"net","run":"dtime3600","sin_lat":-0.313,"value":-35.8},{"var":"net","run":"dtime3600","sin_lat":-0.215,"value":-39.2},{"var":"net","run":"dtime3600","sin_lat":-0.123,"value":-43.2},{"var":"net","run":"dtime3600","sin_lat":-0.071,"value":-46.6},{"var":"net","run":"dtime3600","sin_lat":-0.025,"value":-45.0},{"var":"net","run":"dtime3600","sin_lat":0.024,"value":-45.5},{"var":"net","run":"dtime3600","sin_lat":0.073,"value":-51.6},{"var":"net","run":"dtime3600","sin_lat":0.122,"value":-46.5},{"var":"net","run":"dtime3600","sin_lat":0.171,"value":-33.5},{"var":"net","run":"dtime3600","sin_lat":0.217,"value":-25.4},{"var":"net","run":"dtime3600","sin_lat":0.263,"value":-24.3},{"var":"net","run":"dtime3600","sin_lat":0.309,"value":-24.5},{"var":"net","run":"dtime3600","sin_lat":0.400,"value":-24.2},{"var":"net","run":"dtime3600","sin_lat":0.492,"value":-26.3},{"var":"net","run":"dtime3600","sin_lat":0.570,"value":-28.2},{"var":"net","run":"dtime3600","sin_lat":0.649,"value":-30.2},{"var":"net","run":"dtime3600","sin_lat":0.721,"value":-33.0},{"var":"net","run":"dtime3600","sin_lat":0.767,"value":-31.9},{"var":"net","run":"dtime3600","sin_lat":0.819,"value":-29.2},{"var":"net","run":"dtime3600","sin_lat":0.865,"value":-25.2},{"var":"net","run":"dtime3600","sin_lat":0.911,"value":-19.4},{"var":"net","run":"dtime3600","sin_lat":0.943,"value":-14.1},{"var":"net","run":"dtime3600","sin_lat":0.963,"value":-10.8},{"var":"net","run":"dtime3600","sin_lat":0.983,"value":-5.6},{"var":"net","run":"dtime3600","sin_lat":0.999,"value":-2.9},
{"var":"SW","run":"CERES–EBAF","sin_lat":-0.997,"value":-2.8},{"var":"SW","run":"CERES–EBAF","sin_lat":-0.980,"value":-3.5},{"var":"SW","run":"CERES–EBAF","sin_lat":-0.971,"value":-7.4},{"var":"SW","run":"CERES–EBAF","sin_lat":-0.957,"value":-10.6},{"var":"SW","run":"CERES–EBAF","sin_lat":-0.941,"value":-15.2},{"var":"SW","run":"CERES–EBAF","sin_lat":-0.932,"value":-24.0},{"var":"SW","run":"CERES–EBAF","sin_lat":-0.915,"value":-35.3},{"var":"SW","run":"CERES–EBAF","sin_lat":-0.905,"value":-45.1},{"var":"SW","run":"CERES–EBAF","sin_lat":-0.895,"value":-52.9},{"var":"SW","run":"CERES–EBAF","sin_lat":-0.882,"value":-59.4},{"var":"SW","run":"CERES–EBAF","sin_lat":-0.869,"value":-60.7},{"var":"SW","run":"CERES–EBAF","sin_lat":-0.859,"value":-65.9},{"var":"SW","run":"CERES–EBAF","sin_lat":-0.836,"value":-71.7},{"var":"SW","run":"CERES–EBAF","sin_lat":-0.813,"value":-74.6},{"var":"SW","run":"CERES–EBAF","sin_lat":-0.791,"value":-75.1},{"var":"SW","run":"CERES–EBAF","sin_lat":-0.774,"value":-75.0},{"var":"SW","run":"CERES–EBAF","sin_lat":-0.758,"value":-73.3},{"var":"SW","run":"CERES–EBAF","sin_lat":-0.725,"value":-71.7},{"var":"SW","run":"CERES–EBAF","sin_lat":-0.686,"value":-69.1},{"var":"SW","run":"CERES–EBAF","sin_lat":-0.620,"value":-63.3},{"var":"SW","run":"CERES–EBAF","sin_lat":-0.568,"value":-56.1},{"var":"SW","run":"CERES–EBAF","sin_lat":-0.509,"value":-48.3},{"var":"SW","run":"CERES–EBAF","sin_lat":-0.457,"value":-44.7},{"var":"SW","run":"CERES–EBAF","sin_lat":-0.398,"value":-41.6},{"var":"SW","run":"CERES–EBAF","sin_lat":-0.346,"value":-41.3},{"var":"SW","run":"CERES–EBAF","sin_lat":-0.300,"value":-42.1},{"var":"SW","run":"CERES–EBAF","sin_lat":-0.254,"value":-43.8},{"var":"SW","run":"CERES–EBAF","sin_lat":-0.215,"value":-45.7},{"var":"SW","run":"CERES–EBAF","sin_lat":-0.169,"value":-47.3},{"var":"SW","run":"CERES–EBAF","sin_lat":-0.149,"value":-49.0},{"var":"SW","run":"CERES–EBAF","sin_lat":-0.097,"value":-49.5},{"var":"SW","run":"CERES–EBAF","sin_lat":-0.058,"value":-48.3},{"var":"SW","run":"CERES–EBAF","sin_lat":-0.005,"value":-46.2},{"var":"SW","run":"CERES–EBAF","sin_lat":0.007,"value":-46.5},{"var":"SW","run":"CERES–EBAF","sin_lat":0.047,"value":-52.9},{"var":"SW","run":"CERES–EBAF","sin_lat":0.073,"value":-58.7},{"var":"SW","run":"CERES–EBAF","sin_lat":0.099,"value":-63.6},{"var":"SW","run":"CERES–EBAF","sin_lat":0.112,"value":-63.3},{"var":"SW","run":"CERES–EBAF","sin_lat":0.138,"value":-58.7},{"var":"SW","run":"CERES–EBAF","sin_lat":0.178,"value":-49.0},{"var":"SW","run":"CERES–EBAF","sin_lat":0.230,"value":-38.6},{"var":"SW","run":"CERES–EBAF","sin_lat":0.269,"value":-35.3},{"var":"SW","run":"CERES–EBAF","sin_lat":0.302,"value":-33.9},{"var":"SW","run":"CERES–EBAF","sin_lat":0.322,"value":-34.3},{"var":"SW","run":"CERES–EBAF","sin_lat":0.354,"value":-33.9},{"var":"SW","run":"CERES–EBAF","sin_lat":0.387,"value":-34.3},{"var":"SW","run":"CERES–EBAF","sin_lat":0.440,"value":-37.3},{"var":"SW","run":"CERES–EBAF","sin_lat":0.485,"value":-40.5},{"var":"SW","run":"CERES–EBAF","sin_lat":0.525,"value":-42.5},{"var":"SW","run":"CERES–EBAF","sin_lat":0.570,"value":-46.4},{"var":"SW","run":"CERES–EBAF","sin_lat":0.623,"value":-50.3},{"var":"SW","run":"CERES–EBAF","sin_lat":0.655,"value":-52.9},{"var":"SW","run":"CERES–EBAF","sin_lat":0.685,"value":-55.1},{"var":"SW","run":"CERES–EBAF","sin_lat":0.727,"value":-54.2},{"var":"SW","run":"CERES–EBAF","sin_lat":0.760,"value":-53.8},{"var":"SW","run":"CERES–EBAF","sin_lat":0.799,"value":-50.9},{"var":"SW","run":"CERES–EBAF","sin_lat":0.839,"value":-47.3},{"var":"SW","run":"CERES–EBAF","sin_lat":0.868,"value":-43.1},{"var":"SW","run":"CERES–EBAF","sin_lat":0.898,"value":-37.9},{"var":"SW","run":"CERES–EBAF","sin_lat":0.924,"value":-32.1},{"var":"SW","run":"CERES–EBAF","sin_lat":0.950,"value":-26.9},{"var":"SW","run":"CERES–EBAF","sin_lat":0.963,"value":-21.7},{"var":"SW","run":"CERES–EBAF","sin_lat":0.976,"value":-15.8},{"var":"SW","run":"CERES–EBAF","sin_lat":0.986,"value":-10.6},{"var":"SW","run":"CERES–EBAF","sin_lat":0.999,"value":-9.6},
{"var":"SW","run":"control (dtime1800)","sin_lat":-0.997,"value":-0.2},{"var":"SW","run":"control (dtime1800)","sin_lat":-0.984,"value":-0.9},{"var":"SW","run":"control (dtime1800)","sin_lat":-0.961,"value":-3.5},{"var":"SW","run":"control (dtime1800)","sin_lat":-0.944,"value":-6.7},{"var":"SW","run":"control (dtime1800)","sin_lat":-0.928,"value":-13.2},{"var":"SW","run":"control (dtime1800)","sin_lat":-0.912,"value":-23.5},{"var":"SW","run":"control (dtime1800)","sin_lat":-0.895,"value":-35.3},{"var":"SW","run":"control (dtime1800)","sin_lat":-0.876,"value":-45.7},{"var":"SW","run":"control (dtime1800)","sin_lat":-0.849,"value":-54.8},{"var":"SW","run":"control (dtime1800)","sin_lat":-0.823,"value":-63.9},{"var":"SW","run":"control (dtime1800)","sin_lat":-0.797,"value":-70.4},{"var":"SW","run":"control (dtime1800)","sin_lat":-0.777,"value":-74.3},{"var":"SW","run":"control (dtime1800)","sin_lat":-0.751,"value":-79.5},{"var":"SW","run":"control (dtime1800)","sin_lat":-0.719,"value":-83.4},{"var":"SW","run":"control (dtime1800)","sin_lat":-0.683,"value":-84.4},{"var":"SW","run":"control (dtime1800)","sin_lat":-0.647,"value":-81.5},{"var":"SW","run":"control (dtime1800)","sin_lat":-0.607,"value":-74.3},{"var":"SW","run":"control (dtime1800)","sin_lat":-0.568,"value":-67.2},{"var":"SW","run":"control (dtime1800)","sin_lat":-0.529,"value":-60.3},{"var":"SW","run":"control (dtime1800)","sin_lat":-0.490,"value":-56.4},{"var":"SW","run":"control (dtime1800)","sin_lat":-0.444,"value":-54.2},{"var":"SW","run":"control (dtime1800)","sin_lat":-0.401,"value":-54.5},{"var":"SW","run":"control (dtime1800)","sin_lat":-0.352,"value":-56.8},{"var":"SW","run":"control (dtime1800)","sin_lat":-0.280,"value":-63.3},{"var":"SW","run":"control (dtime1800)","sin_lat":-0.215,"value":-69.1},{"var":"SW","run":"control (dtime1800)","sin_lat":-0.123,"value":-76.6},{"var":"SW","run":"control (dtime1800)","sin_lat":-0.071,"value":-81.5},{"var":"SW","run":"control (dtime1800)","sin_lat":-0.022,"value":-80.4},{"var":"SW","run":"control (dtime1800)","sin_lat":0.027,"value":-82.4},{"var":"SW","run":"control (dtime1800)","sin_lat":0.073,"value":-92.8},{"var":"SW","run":"control (dtime1800)","sin_lat":0.122,"value":-90.2},{"var":"SW","run":"control (dtime1800)","sin_lat":0.171,"value":-74.3},{"var":"SW","run":"control (dtime1800)","sin_lat":0.217,"value":-62.6},{"var":"SW","run":"control (dtime1800)","sin_lat":0.269,"value":-57.4},{"var":"SW","run":"control (dtime1800)","sin_lat":0.358,"value":-49.6},{"var":"SW","run":"control (dtime1800)","sin_lat":0.404,"value":-47.3},{"var":"SW","run":"control (dtime1800)","sin_lat":0.449,"value":-48.0},{"var":"SW","run":"control (dtime1800)","sin_lat":0.492,"value":-50.3},{"var":"SW","run":"control (dtime1800)","sin_lat":0.538,"value":-53.5},{"var":"SW","run":"control (dtime1800)","sin_lat":0.570,"value":-57.1},{"var":"SW","run":"control (dtime1800)","sin_lat":0.610,"value":-60.0},{"var":"SW","run":"control (dtime1800)","sin_lat":0.662,"value":-61.3},{"var":"SW","run":"control (dtime1800)","sin_lat":0.688,"value":-62.0},{"var":"SW","run":"control (dtime1800)","sin_lat":0.721,"value":-62.0},{"var":"SW","run":"control (dtime1800)","sin_lat":0.767,"value":-60.7},{"var":"SW","run":"control (dtime1800)","sin_lat":0.813,"value":-57.7},{"var":"SW","run":"control (dtime1800)","sin_lat":0.852,"value":-53.5},{"var":"SW","run":"control (dtime1800)","sin_lat":0.885,"value":-47.7},{"var":"SW","run":"control (dtime1800)","sin_lat":0.917,"value":-40.5},{"var":"SW","run":"control (dtime1800)","sin_lat":0.943,"value":-34.0},{"var":"SW","run":"control (dtime1800)","sin_lat":0.963,"value":-28.2},{"var":"SW","run":"control (dtime1800)","sin_lat":0.976,"value":-23.6},{"var":"SW","run":"control (dtime1800)","sin_lat":0.986,"value":-15.2},{"var":"SW","run":"control (dtime1800)","sin_lat":0.999,"value":-14.8},
{"var":"SW","run":"dtime600","sin_lat":-0.997,"value":-0.2},{"var":"SW","run":"dtime600","sin_lat":-0.984,"value":-0.9},{"var":"SW","run":"dtime600","sin_lat":-0.961,"value":-3.5},{"var":"SW","run":"dtime600","sin_lat":-0.944,"value":-6.7},{"var":"SW","run":"dtime600","sin_lat":-0.928,"value":-13.2},{"var":"SW","run":"dtime600","sin_lat":-0.912,"value":-23.5},{"var":"SW","run":"dtime600","sin_lat":-0.895,"value":-35.3},{"var":"SW","run":"dtime600","sin_lat":-0.876,"value":-45.5},{"var":"SW","run":"dtime600","sin_lat":-0.849,"value":-54.3},{"var":"SW","run":"dtime600","sin_lat":-0.823,"value":-62.8},{"var":"SW","run":"dtime600","sin_lat":-0.797,"value":-68.9},{"var":"SW","run":"dtime600","sin_lat":-0.777,"value":-72.6},{"var":"SW","run":"dtime600","sin_lat":-0.751,"value":-77.6},{"var":"SW","run":"dtime600","sin_lat":-0.719,"value":-80.5},{"var":"SW","run":"dtime600","sin_lat":-0.690,"value":-80.9},{"var":"SW","run":"dtime600","sin_lat":-0.660,"value":-77.8},{"var":"SW","run":"dtime600","sin_lat":-0.620,"value":-70.0},{"var":"SW","run":"dtime600","sin_lat":-0.575,"value":-62.0},{"var":"SW","run":"dtime600","sin_lat":-0.529,"value":-55.8},{"var":"SW","run":"dtime600","sin_lat":-0.490,"value":-53.0},{"var":"SW","run":"dtime600","sin_lat":-0.444,"value":-51.9},{"var":"SW","run":"dtime600","sin_lat":-0.401,"value":-52.6},{"var":"SW","run":"dtime600","sin_lat":-0.352,"value":-55.0},{"var":"SW","run":"dtime600","sin_lat":-0.260,"value":-60.3},{"var":"SW","run":"dtime600","sin_lat":-0.182,"value":-67.5},{"var":"SW","run":"dtime600","sin_lat":-0.123,"value":-71.7},{"var":"SW","run":"dtime600","sin_lat":-0.071,"value":-74.3},{"var":"SW","run":"dtime600","sin_lat":-0.022,"value":-73.7},{"var":"SW","run":"dtime600","sin_lat":0.014,"value":-75.0},{"var":"SW","run":"dtime600","sin_lat":0.073,"value":-85.4},{"var":"SW","run":"dtime600","sin_lat":0.122,"value":-84.1},{"var":"SW","run":"dtime600","sin_lat":0.171,"value":-69.8},{"var":"SW","run":"dtime600","sin_lat":0.217,"value":-58.7},{"var":"SW","run":"dtime600","sin_lat":0.269,"value":-52.9},{"var":"SW","run":"dtime600","sin_lat":0.358,"value":-45.4},{"var":"SW","run":"dtime600","sin_lat":0.407,"value":-43.8},{"var":"SW","run":"dtime600","sin_lat":0.449,"value":-44.7},{"var":"SW","run":"dtime600","sin_lat":0.505,"value":-48.3},{"var":"SW","run":"dtime600","sin_lat":0.551,"value":-52.9},{"var":"SW","run":"dtime600","sin_lat":0.610,"value":-58.4},{"var":"SW","run":"dtime600","sin_lat":0.662,"value":-60.0},{"var":"SW","run":"dtime600","sin_lat":0.714,"value":-60.3},{"var":"SW","run":"dtime600","sin_lat":0.767,"value":-59.0},{"var":"SW","run":"dtime600","sin_lat":0.812,"value":-56.1},{"var":"SW","run":"dtime600","sin_lat":0.852,"value":-52.2},{"var":"SW","run":"dtime600","sin_lat":0.884,"value":-47.0},{"var":"SW","run":"dtime600","sin_lat":0.917,"value":-39.9},{"var":"SW","run":"dtime600","sin_lat":0.943,"value":-33.4},{"var":"SW","run":"dtime600","sin_lat":0.963,"value":-27.8},{"var":"SW","run":"dtime600","sin_lat":0.976,"value":-23.4},{"var":"SW","run":"dtime600","sin_lat":0.986,"value":-15.2},{"var":"SW","run":"dtime600","sin_lat":0.999,"value":-14.8},
{"var":"SW","run":"dtime900","sin_lat":-0.997,"value":-0.2},{"var":"SW","run":"dtime900","sin_lat":-0.984,"value":-0.9},{"var":"SW","run":"dtime900","sin_lat":-0.961,"value":-3.5},{"var":"SW","run":"dtime900","sin_lat":-0.944,"value":-6.7},{"var":"SW","run":"dtime900","sin_lat":-0.928,"value":-13.2},{"var":"SW","run":"dtime900","sin_lat":-0.912,"value":-23.5},{"var":"SW","run":"dtime900","sin_lat":-0.895,"value":-35.3},{"var":"SW","run":"dtime900","sin_lat":-0.876,"value":-45.6},{"var":"SW","run":"dtime900","sin_lat":-0.849,"value":-54.5},{"var":"SW","run":"dtime900","sin_lat":-0.823,"value":-63.3},{"var":"SW","run":"dtime900","sin_lat":-0.797,"value":-69.6},{"var":"SW","run":"dtime900","sin_lat":-0.777,"value":-73.4},{"var":"SW","run":"dtime900","sin_lat":-0.751,"value":-78.5},{"var":"SW","run":"dtime900","sin_lat":-0.719,"value":-81.8},{"var":"SW","run":"dtime900","sin_lat":-0.690,"value":-82.2},{"var":"SW","run":"dtime900","sin_lat":-0.660,"value":-79.0},{"var":"SW","run":"dtime900","sin_lat":-0.620,"value":-71.3},{"var":"SW","run":"dtime900","sin_lat":-0.575,"value":-63.3},{"var":"SW","run":"dtime900","sin_lat":-0.529,"value":-56.8},{"var":"SW","run":"dtime900","sin_lat":-0.490,"value":-54.0},{"var":"SW","run":"dtime900","sin_lat":-0.444,"value":-52.9},{"var":"SW","run":"dtime900","sin_lat":-0.401,"value":-53.5},{"var":"SW","run":"dtime900","sin_lat":-0.352,"value":-56.0},{"var":"SW","run":"dtime900","sin_lat":-0.260,"value":-61.8},{"var":"SW","run":"dtime900","sin_lat":-0.182,"value":-69.0},{"var":"SW","run":"dtime900","sin_lat":-0.123,"value":-73.5},{"var":"SW","run":"dtime900","sin_lat":-0.071,"value":-77.4},{"var":"SW","run":"dtime900","sin_lat":-0.022,"value":-77.5},{"var":"SW","run":"dtime900","sin_lat":0.014,"value":-77.6},{"var":"SW","run":"dtime900","sin_lat":0.073,"value":-88.6},{"var":"SW","run":"dtime900","sin_lat":0.122,"value":-86.7},{"var":"SW","run":"dtime900","sin_lat":0.171,"value":-71.7},{"var":"SW","run":"dtime900","sin_lat":0.217,"value":-60.0},{"var":"SW","run":"dtime900","sin_lat":0.269,"value":-54.2},{"var":"SW","run":"dtime900","sin_lat":0.358,"value":-46.7},{"var":"SW","run":"dtime900","sin_lat":0.407,"value":-45.7},{"var":"SW","run":"dtime900","sin_lat":0.449,"value":-46.4},{"var":"SW","run":"dtime900","sin_lat":0.505,"value":-49.6},{"var":"SW","run":"dtime900","sin_lat":0.551,"value":-54.2},{"var":"SW","run":"dtime900","sin_lat":0.610,"value":-59.0},{"var":"SW","run":"dtime900","sin_lat":0.662,"value":-60.3},{"var":"SW","run":"dtime900","sin_lat":0.714,"value":-60.7},{"var":"SW","run":"dtime900","sin_lat":0.767,"value":-59.4},{"var":"SW","run":"dtime900","sin_lat":0.812,"value":-56.4},{"var":"SW","run":"dtime900","sin_lat":0.852,"value":-52.6},{"var":"SW","run":"dtime900","sin_lat":0.884,"value":-47.3},{"var":"SW","run":"dtime900","sin_lat":0.917,"value":-40.2},{"var":"SW","run":"dtime900","sin_lat":0.943,"value":-33.7},{"var":"SW","run":"dtime900","sin_lat":0.963,"value":-28.0},{"var":"SW","run":"dtime900","sin_lat":0.976,"value":-23.5},{"var":"SW","run":"dtime900","sin_lat":0.986,"value":-15.2},{"var":"SW","run":"dtime900","sin_lat":0.999,"value":-14.8},
{"var":"SW","run":"dtime3600","sin_lat":-0.997,"value":-0.2},{"var":"SW","run":"dtime3600","sin_lat":-0.984,"value":-0.9},{"var":"SW","run":"dtime3600","sin_lat":-0.961,"value":-3.5},{"var":"SW","run":"dtime3600","sin_lat":-0.944,"value":-6.7},{"var":"SW","run":"dtime3600","sin_lat":-0.928,"value":-13.2},{"var":"SW","run":"dtime3600","sin_lat":-0.912,"value":-23.5},{"var":"SW","run":"dtime3600","sin_lat":-0.895,"value":-35.3},{"var":"SW","run":"dtime3600","sin_lat":-0.876,"value":-45.8},{"var":"SW","run":"dtime3600","sin_lat":-0.849,"value":-55.2},{"var":"SW","run":"dtime3600","sin_lat":-0.823,"value":-64.5},{"var":"SW","run":"dtime3600","sin_lat":-0.797,"value":-71.2},{"var":"SW","run":"dtime3600","sin_lat":-0.777,"value":-75.3},{"var":"SW","run":"dtime3600","sin_lat":-0.751,"value":-80.6},{"var":"SW","run":"dtime3600","sin_lat":-0.719,"value":-84.5},{"var":"SW","run":"dtime3600","sin_lat":-0.686,"value":-85.4},{"var":"SW","run":"dtime3600","sin_lat":-0.647,"value":-82.8},{"var":"SW","run":"dtime3600","sin_lat":-0.607,"value":-76.0},{"var":"SW","run":"dtime3600","sin_lat":-0.568,"value":-69.0},{"var":"SW","run":"dtime3600","sin_lat":-0.529,"value":-62.2},{"var":"SW","run":"dtime3600","sin_lat":-0.490,"value":-58.3},{"var":"SW","run":"dtime3600","sin_lat":-0.444,"value":-56.1},{"var":"SW","run":"dtime3600","sin_lat":-0.401,"value":-56.5},{"var":"SW","run":"dtime3600","sin_lat":-0.352,"value":-58.8},{"var":"SW","run":"dtime3600","sin_lat":-0.280,"value":-64.9},{"var":"SW","run":"dtime3600","sin_lat":-0.215,"value":-70.8},{"var":"SW","run":"dtime3600","sin_lat":-0.123,"value":-78.9},{"var":"SW","run":"dtime3600","sin_lat":-0.071,"value":-85.4},{"var":"SW","run":"dtime3600","sin_lat":-0.022,"value":-84.1},{"var":"SW","run":"dtime3600","sin_lat":0.027,"value":-86.7},{"var":"SW","run":"dtime3600","sin_lat":0.073,"value":-97.1},{"var":"SW","run":"dtime3600","sin_lat":0.122,"value":-95.1},{"var":"SW","run":"dtime3600","sin_lat":0.171,"value":-78.9},{"var":"SW","run":"dtime3600","sin_lat":0.217,"value":-67.2},{"var":"SW","run":"dtime3600","sin_lat":0.269,"value":-61.3},{"var":"SW","run":"dtime3600","sin_lat":0.358,"value":-52.9},{"var":"SW","run":"dtime3600","sin_lat":0.414,"value":-49.6},{"var":"SW","run":"dtime3600","sin_lat":0.452,"value":-50.3},{"var":"SW","run":"dtime3600","sin_lat":0.505,"value":-52.9},{"var":"SW","run":"dtime3600","sin_lat":0.551,"value":-56.8},{"var":"SW","run":"dtime3600","sin_lat":0.610,"value":-61.0},{"var":"SW","run":"dtime3600","sin_lat":0.662,"value":-62.6},{"var":"SW","run":"dtime3600","sin_lat":0.714,"value":-63.3},{"var":"SW","run":"dtime3600","sin_lat":0.767,"value":-62.0},{"var":"SW","run":"dtime3600","sin_lat":0.812,"value":-59.4},{"var":"SW","run":"dtime3600","sin_lat":0.852,"value":-54.8},{"var":"SW","run":"dtime3600","sin_lat":0.884,"value":-49.0},{"var":"SW","run":"dtime3600","sin_lat":0.917,"value":-41.8},{"var":"SW","run":"dtime3600","sin_lat":0.943,"value":-35.3},{"var":"SW","run":"dtime3600","sin_lat":0.963,"value":-29.4},{"var":"SW","run":"dtime3600","sin_lat":0.976,"value":-24.0},{"var":"SW","run":"dtime3600","sin_lat":0.986,"value":-15.4},{"var":"SW","run":"dtime3600","sin_lat":0.999,"value":-14.9}
],
"rain": [
{"run":"Xie–Arkin","sin_lat":-0.996,"value":0.51},{"run":"Xie–Arkin","sin_lat":-0.986,"value":0.79},{"run":"Xie–Arkin","sin_lat":-0.976,"value":0.85},{"run":"Xie–Arkin","sin_lat":-0.960,"value":1.02},{"run":"Xie–Arkin","sin_lat":-0.934,"value":1.22},{"run":"Xie–Arkin","sin_lat":-0.914,"value":1.51},{"run":"Xie–Arkin","sin_lat":-0.891,"value":1.87},{"run":"Xie–Arkin","sin_lat":-0.868,"value":1.95},{"run":"Xie–Arkin","sin_lat":-0.839,"value":1.95},{"run":"Xie–Arkin","sin_lat":-0.812,"value":2.04},{"run":"Xie–Arkin","sin_lat":-0.783,"value":2.14},{"run":"Xie–Arkin","sin_lat":-0.750,"value":2.31},{"run":"Xie–Arkin","sin_lat":-0.721,"value":2.49},{"run":"Xie–Arkin","sin_lat":-0.685,"value":2.58},{"run":"Xie–Arkin","sin_lat":-0.649,"value":2.64},{"run":"Xie–Arkin","sin_lat":-0.610,"value":2.65},{"run":"Xie–Arkin","sin_lat":-0.574,"value":2.54},{"run":"Xie–Arkin","sin_lat":-0.534,"value":2.42},{"run":"Xie–Arkin","sin_lat":-0.495,"value":2.33},{"run":"Xie–Arkin","sin_lat":-0.449,"value":2.20},{"run":"Xie–Arkin","sin_lat":-0.404,"value":2.08},{"run":"Xie–Arkin","sin_lat":-0.361,"value":2.06},{"run":"Xie–Arkin","sin_lat":-0.312,"value":2.19},{"run":"Xie–Arkin","sin_lat":-0.269,"value":2.60},{"run":"Xie–Arkin","sin_lat":-0.240,"value":2.98},{"run":"Xie–Arkin","sin_lat":-0.214,"value":3.35},{"run":"Xie–Arkin","sin_lat":-0.168,"value":3.92},{"run":"Xie–Arkin","sin_lat":-0.122,"value":4.42},{"run":"Xie–Arkin","sin_lat":-0.073,"value":4.53},{"run":"Xie–Arkin","sin_lat":-0.024,"value":4.27},{"run":"Xie–Arkin","sin_lat":0.025,"value":4.70},{"run":"Xie–Arkin","sin_lat":0.048,"value":5.38},{"run":"Xie–Arkin","sin_lat":0.071,"value":6.07},{"run":"Xie–Arkin","sin_lat":0.097,"value":6.36},{"run":"Xie–Arkin","sin_lat":0.120,"value":6.64},{"run":"Xie–Arkin","sin_lat":0.139,"value":6.20},{"run":"Xie–Arkin","sin_lat":0.169,"value":5.38},{"run":"Xie–Arkin","sin_lat":0.192,"value":4.48},{"run":"Xie–Arkin","sin_lat":0.218,"value":3.60},{"run":"Xie–Arkin","sin_lat":0.238,"value":3.14},{"run":"Xie–Arkin","sin_lat":0.264,"value":2.70},{"run":"Xie–Arkin","sin_lat":0.310,"value":2.25},{"run":"Xie–Arkin","sin_lat":0.355,"value":1.93},{"run":"Xie–Arkin","sin_lat":0.401,"value":1.87},{"run":"Xie–Arkin","sin_lat":0.447,"value":1.92},{"run":"Xie–Arkin","sin_lat":0.490,"value":1.98},{"run":"Xie–Arkin","sin_lat":0.532,"value":2.20},{"run":"Xie–Arkin","sin_lat":0.571,"value":2.40},{"run":"Xie–Arkin","sin_lat":0.611,"value":2.48},{"run":"Xie–Arkin","sin_lat":0.650,"value":2.42},{"run":"Xie–Arkin","sin_lat":0.683,"value":2.26},{"run":"Xie–Arkin","sin_lat":0.722,"value":2.11},{"run":"Xie–Arkin","sin_lat":0.755,"value":2.07},{"run":"Xie–Arkin","sin_lat":0.787,"value":1.99},{"run":"Xie–Arkin","sin_lat":0.813,"value":1.91},{"run":"Xie–Arkin","sin_lat":0.840,"value":1.88},{"run":"Xie–Arkin","sin_lat":0.866,"value":1.73},{"run":"Xie–Arkin","sin_lat":0.885,"value":1.51},{"run":"Xie–Arkin","sin_lat":0.925,"value":1.05},{"run":"Xie–Arkin","sin_lat":0.948,"value":0.78},{"run":"Xie–Arkin","sin_lat":0.975,"value":0.50},{"run":"Xie–Arkin","sin_lat":0.995,"value":0.30},
{"run":"GPCP","sin_lat":-0.999,"value":0.34},{"run":"GPCP","sin_lat":-0.986,"value":0.48},{"run":"GPCP","sin_lat":-0.970,"value":0.75},{"run":"GPCP","sin_lat":-0.947,"value":0.86},{"run":"GPCP","sin_lat":-0.934,"value":1.20},{"run":"GPCP","sin_lat":-0.914,"value":1.51},{"run":"GPCP","sin_lat":-0.894,"value":1.93},{"run":"GPCP","sin_lat":-0.875,"value":2.57},{"run":"GPCP","sin_lat":-0.855,"value":3.18},{"run":"GPCP","sin_lat":-0.832,"value":3.28},{"run":"GPCP","sin_lat":-0.809,"value":3.05},{"run":"GPCP","sin_lat":-0.780,"value":2.85},{"run":"GPCP","sin_lat":-0.752,"value":2.76},{"run":"GPCP","sin_lat":-0.724,"value":2.85},{"run":"GPCP","sin_lat":-0.691,"value":2.91},{"run":"GPCP","sin_lat":-0.662,"value":2.92},{"run":"GPCP","sin_lat":-0.629,"value":2.89},{"run":"GPCP","sin_lat":-0.593,"value":2.72},{"run":"GPCP","sin_lat":-0.547,"value":2.54},{"run":"GPCP","sin_lat":-0.502,"value":2.35},{"run":"GPCP","sin_lat":-0.449,"value":2.14},{"run":"GPCP","sin_lat":-0.400,"value":1.92},{"run":"GPCP","sin_lat":-0.361,"value":1.87},{"run":"GPCP","sin_lat":-0.322,"value":1.97},{"run":"GPCP","sin_lat":-0.286,"value":2.23},{"run":"GPCP","sin_lat":-0.246,"value":2.58},{"run":"GPCP","sin_lat":-0.197,"value":3.01},{"run":"GPCP","sin_lat":-0.174,"value":3.28},{"run":"GPCP","sin_lat":-0.155,"value":3.60},{"run":"GPCP","sin_lat":-0.116,"value":3.96},{"run":"GPCP","sin_lat":-0.070,"value":4.07},{"run":"GPCP","sin_lat":-0.021,"value":3.93},{"run":"GPCP","sin_lat":0.022,"value":4.10},{"run":"GPCP","sin_lat":0.048,"value":4.81},{"run":"GPCP","sin_lat":0.074,"value":5.42},{"run":"GPCP","sin_lat":0.107,"value":5.88},{"run":"GPCP","sin_lat":0.152,"value":5.26},{"run":"GPCP","sin_lat":0.172,"value":4.57},{"run":"GPCP","sin_lat":0.192,"value":3.87},{"run":"GPCP","sin_lat":0.208,"value":3.45},{"run":"GPCP","sin_lat":0.234,"value":2.73},{"run":"GPCP","sin_lat":0.251,"value":2.45},{"run":"GPCP","sin_lat":0.280,"value":2.17},{"run":"GPCP","sin_lat":0.319,"value":1.95},{"run":"GPCP","sin_lat":0.362,"value":1.76},{"run":"GPCP","sin_lat":0.401,"value":1.70},{"run":"GPCP","sin_lat":0.440,"value":1.82},{"run":"GPCP","sin_lat":0.486,"value":1.98},{"run":"GPCP","sin_lat":0.532,"value":2.25},{"run":"GPCP","sin_lat":0.565,"value":2.46},{"run":"GPCP","sin_lat":0.598,"value":2.63},{"run":"GPCP","sin_lat":0.627,"value":2.79},{"run":"GPCP","sin_lat":0.660,"value":2.76},{"run":"GPCP","sin_lat":0.692,"value":2.66},{"run":"GPCP","sin_lat":0.722,"value":2.52},{"run":"GPCP","sin_lat":0.748,"value":2.50},{"run":"GPCP","sin_lat":0.781,"value":2.47},{"run":"GPCP","sin_lat":0.807,"value":2.42},{"run":"GPCP","sin_lat":0.833,"value":2.46},{"run":"GPCP","sin_lat":0.856,"value":2.35},{"run":"GPCP","sin_lat":0.879,"value":2.08},{"run":"GPCP","sin_lat":0.905,"value":1.78},{"run":"GPCP","sin_lat":0.928,"value":1.51},{"run":"GPCP","sin_lat":0.948,"value":1.08},{"run":"GPCP","sin_lat":0.975,"value":0.75},{"run":"GPCP","sin_lat":0.995,"value":0.50},
{"run":"control (dtime1800)","sin_lat":-0.999,"value":0.29},{"run":"control (dtime1800)","sin_lat":-0.983,"value":0.37},{"run":"control (dtime1800)","sin_lat":-0.973,"value":0.60},{"run":"control (dtime1800)","sin_lat":-0.956,"value":0.81},{"run":"control (dtime1800)","sin_lat":-0.934,"value":1.23},{"run":"control (dtime1800)","sin_lat":-0.914,"value":1.66},{"run":"control (dtime1800)","sin_lat":-0.894,"value":1.95},{"run":"control (dtime1800)","sin_lat":-0.868,"value":2.05},{"run":"control (dtime1800)","sin_lat":-0.822,"value":2.54},{"run":"control (dtime1800)","sin_lat":-0.783,"value":2.87},{"run":"control (dtime1800)","sin_lat":-0.750,"value":3.13},{"run":"control (dtime1800)","sin_lat":-0.721,"value":3.28},{"run":"control (dtime1800)","sin_lat":-0.685,"value":3.25},{"run":"control (dtime1800)","sin_lat":-0.649,"value":3.08},{"run":"control (dtime1800)","sin_lat":-0.613,"value":2.72},{"run":"control (dtime1800)","sin_lat":-0.574,"value":2.42},{"run":"control (dtime1800)","sin_lat":-0.534,"value":2.15},{"run":"control (dtime1800)","sin_lat":-0.492,"value":1.97},{"run":"control (dtime1800)","sin_lat":-0.446,"value":1.88},{"run":"control (dtime1800)","sin_lat":-0.404,"value":1.96},{"run":"control (dtime1800)","sin_lat":-0.361,"value":2.05},{"run":"control (dtime1800)","sin_lat":-0.312,"value":2.38},{"run":"control (dtime1800)","sin_lat":-0.266,"value":2.72},{"run":"control (dtime1800)","sin_lat":-0.220,"value":3.14},{"run":"control (dtime1800)","sin_lat":-0.184,"value":3.31},{"run":"control (dtime1800)","sin_lat":-0.122,"value":3.67},{"run":"control (dtime1800)","sin_lat":-0.076,"value":4.15},{"run":"control (dtime1800)","sin_lat":-0.024,"value":4.16},{"run":"control (dtime1800)","sin_lat":0.022,"value":4.20},{"run":"control (dtime1800)","sin_lat":0.051,"value":5.26},{"run":"control (dtime1800)","sin_lat":0.080,"value":6.11},{"run":"control (dtime1800)","sin_lat":0.116,"value":6.63},{"run":"control (dtime1800)","sin_lat":0.139,"value":6.02},{"run":"control (dtime1800)","sin_lat":0.172,"value":4.96},{"run":"control (dtime1800)","sin_lat":0.205,"value":3.90},{"run":"control (dtime1800)","sin_lat":0.238,"value":3.38},{"run":"control (dtime1800)","sin_lat":0.264,"value":3.16},{"run":"control (dtime1800)","sin_lat":0.310,"value":2.72},{"run":"control (dtime1800)","sin_lat":0.355,"value":2.35},{"run":"control (dtime1800)","sin_lat":0.401,"value":1.96},{"run":"control (dtime1800)","sin_lat":0.444,"value":1.95},{"run":"control (dtime1800)","sin_lat":0.486,"value":2.11},{"run":"control (dtime1800)","sin_lat":0.532,"value":2.25},{"run":"control (dtime1800)","sin_lat":0.571,"value":2.48},{"run":"control (dtime1800)","sin_lat":0.609,"value":2.66},{"run":"control (dtime1800)","sin_lat":0.650,"value":2.51},{"run":"control (dtime1800)","sin_lat":0.689,"value":2.40},{"run":"control (dtime1800)","sin_lat":0.722,"value":2.35},{"run":"control (dtime1800)","sin_lat":0.781,"value":2.35},{"run":"control (dtime1800)","sin_lat":0.807,"value":2.23},{"run":"control (dtime1800)","sin_lat":0.840,"value":2.16},{"run":"control (dtime1800)","sin_lat":0.866,"value":2.07},{"run":"control (dtime1800)","sin_lat":0.905,"value":1.72},{"run":"control (dtime1800)","sin_lat":0.931,"value":1.35},{"run":"control (dtime1800)","sin_lat":0.944,"value":1.20},{"run":"control (dtime1800)","sin_lat":0.970,"value":0.80},{"run":"control (dtime1800)","sin_lat":0.995,"value":0.45},
{"run":"dtime600","sin_lat":-0.999,"value":0.29},{"run":"dtime600","sin_lat":-0.983,"value":0.38},{"run":"dtime600","sin_lat":-0.973,"value":0.62},{"run":"dtime600","sin_lat":-0.956,"value":0.85},{"run":"dtime600","sin_lat":-0.934,"value":1.30},{"run":"dtime600","sin_lat":-0.914,"value":1.70},{"run":"dtime600","sin_lat":-0.894,"value":1.97},{"run":"dtime600","sin_lat":-0.868,"value":2.10},{"run":"dtime600","sin_lat":-0.822,"value":2.52},{"run":"dtime600","sin_lat":-0.783,"value":2.82},{"run":"dtime600","sin_lat":-0.750,"value":3.02},{"run":"dtime600","sin_lat":-0.718,"value":3.10},{"run":"dtime600","sin_lat":-0.685,"value":3.08},{"run":"dtime600","sin_lat":-0.649,"value":2.95},{"run":"dtime600","sin_lat":-0.613,"value":2.68},{"run":"dtime600","sin_lat":-0.574,"value":2.40},{"run":"dtime600","sin_lat":-0.534,"value":2.18},{"run":"dtime600","sin_lat":-0.492,"value":2.03},{"run":"dtime600","sin_lat":-0.446,"value":1.98},{"run":"dtime600","sin_lat":-0.404,"value":1.99},{"run":"dtime600","sin_lat":-0.361,"value":2.07},{"run":"dtime600","sin_lat":-0.312,"value":2.35},{"run":"dtime600","sin_lat":-0.266,"value":2.68},{"run":"dtime600","sin_lat":-0.220,"value":3.05},{"run":"dtime600","sin_lat":-0.184,"value":3.28},{"run":"dtime600","sin_lat":-0.125,"value":3.72},{"run":"dtime600","sin_lat":-0.076,"value":4.38},{"run":"dtime600","sin_lat":-0.040,"value":4.15},{"run":"dtime600","sin_lat":-0.024,"value":4.10},{"run":"dtime600","sin_lat":0.022,"value":4.18},{"run":"dtime600","sin_lat":0.051,"value":5.40},{"run":"dtime600","sin_lat":0.080,"value":6.20},{"run":"dtime600","sin_lat":0.120,"value":6.81},{"run":"dtime600","sin_lat":0.139,"value":6.10},{"run":"dtime600","sin_lat":0.172,"value":4.90},{"run":"dtime600","sin_lat":0.205,"value":3.80},{"run":"dtime600","sin_lat":0.238,"value":3.30},{"run":"dtime600","sin_lat":0.264,"value":3.05},{"run":"dtime600","sin_lat":0.310,"value":2.62},{"run":"dtime600","sin_lat":0.355,"value":2.30},{"run":"dtime600","sin_lat":0.401,"value":2.05},{"run":"dtime600","sin_lat":0.430,"value":2.02},{"run":"dtime600","sin_lat":0.460,"value":2.04},{"run":"dtime600","sin_lat":0.486,"value":2.10},{"run":"dtime600","sin_lat":0.532,"value":2.22},{"run":"dtime600","sin_lat":0.571,"value":2.45},{"run":"dtime600","sin_lat":0.609,"value":2.68},{"run":"dtime600","sin_lat":0.650,"value":2.50},{"run":"dtime600","sin_lat":0.689,"value":2.36},{"run":"dtime600","sin_lat":0.722,"value":2.29},{"run":"dtime600","sin_lat":0.781,"value":2.28},{"run":"dtime600","sin_lat":0.807,"value":2.22},{"run":"dtime600","sin_lat":0.840,"value":2.14},{"run":"dtime600","sin_lat":0.866,"value":2.05},{"run":"dtime600","sin_lat":0.905,"value":1.70},{"run":"dtime600","sin_lat":0.931,"value":1.32},{"run":"dtime600","sin_lat":0.944,"value":1.18},{"run":"dtime600","sin_lat":0.970,"value":0.80},{"run":"dtime600","sin_lat":0.995,"value":0.45},
{"run":"dtime900","sin_lat":-0.999,"value":0.29},{"run":"dtime900","sin_lat":-0.983,"value":0.38},{"run":"dtime900","sin_lat":-0.973,"value":0.61},{"run":"dtime900","sin_lat":-0.956,"value":0.83},{"run":"dtime900","sin_lat":-0.934,"value":1.27},{"run":"dtime900","sin_lat":-0.914,"value":1.68},{"run":"dtime900","sin_lat":-0.894,"value":1.96},{"run":"dtime900","sin_lat":-0.868,"value":2.08},{"run":"dtime900","sin_lat":-0.822,"value":2.53},{"run":"dtime900","sin_lat":-0.783,"value":2.85},{"run":"dtime900","sin_lat":-0.750,"value":3.08},{"run":"dtime900","sin_lat":-0.718,"value":3.18},{"run":"dtime900","sin_lat":-0.685,"value":3.16},{"run":"dtime900","sin_lat":-0.649,"value":3.02},{"run":"dtime900","sin_lat":-0.613,"value":2.70},{"run":"dtime900","sin_lat":-0.574,"value":2.41},{"run":"dtime900","sin_lat":-0.534,"value":2.16},{"run":"dtime900","sin_lat":-0.492,"value":2.00},{"run":"dtime900","sin_lat":-0.446,"value":1.93},{"run":"dtime900","sin_lat":-0.404,"value":1.97},{"run":"dtime900","sin_lat":-0.361,"value":2.06},{"run":"dtime900","sin_lat":-0.312,"value":2.36},{"run":"dtime900","sin_lat":-0.266,"value":2.70},{"run":"dtime900","sin_lat":-0.220,"value":3.10},{"run":"dtime900","sin_lat":-0.184,"value":3.30},{"run":"dtime900","sin_lat":-0.125,"value":3.70},{"run":"dtime900","sin_lat":-0.076,"value":4.30},{"run":"dtime900","sin_lat":-0.040,"value":4.14},{"run":"dtime900","sin_lat":-0.024,"value":4.12},{"run":"dtime900","sin_lat":0.022,"value":4.19},{"run":"dtime900","sin_lat":0.051,"value":5.35},{"run":"dtime900","sin_lat":0.080,"value":6.18},{"run":"dtime900","sin_lat":0.120,"value":6.75},{"run":"dtime900","sin_lat":0.139,"value":6.06},{"run":"dtime900","sin_lat":0.172,"value":4.93},{"run":"dtime900","sin_lat":0.205,"value":3.85},{"run":"dtime900","sin_lat":0.238,"value":3.34},{"run":"dtime900","sin_lat":0.264,"value":3.10},{"run":"dtime900","sin_lat":0.310,"value":2.67},{"run":"dtime900","sin_lat":0.355,"value":2.32},{"run":"dtime900","sin_lat":0.401,"value":2.01},{"run":"dtime900","sin_lat":0.430,"value":1.99},{"run":"dtime900","sin_lat":0.460,"value":2.02},{"run":"dtime900","sin_lat":0.486,"value":2.10},{"run":"dtime900","sin_lat":0.532,"value":2.23},{"run":"dtime900","sin_lat":0.571,"value":2.46},{"run":"dtime900","sin_lat":0.609,"value":2.67},{"run":"dtime900","sin_lat":0.650,"value":2.50},{"run":"dtime900","sin_lat":0.689,"value":2.38},{"run":"dtime900","sin_lat":0.722,"value":2.31},{"run":"dtime900","sin_lat":0.781,"value":2.31},{"run":"dtime900","sin_lat":0.807,"value":2.22},{"run":"dtime900","sin_lat":0.840,"value":2.15},{"run":"dtime900","sin_lat":0.866,"value":2.06},{"run":"dtime900","sin_lat":0.905,"value":1.71},{"run":"dtime900","sin_lat":0.931,"value":1.33},{"run":"dtime900","sin_lat":0.944,"value":1.19},{"run":"dtime900","sin_lat":0.970,"value":0.80},{"run":"dtime900","sin_lat":0.995,"value":0.45},
{"run":"dtime3600","sin_lat":-0.999,"value":0.30},{"run":"dtime3600","sin_lat":-0.983,"value":0.40},{"run":"dtime3600","sin_lat":-0.973,"value":0.63},{"run":"dtime3600","sin_lat":-0.956,"value":0.85},{"run":"dtime3600","sin_lat":-0.934,"value":1.28},{"run":"dtime3600","sin_lat":-0.914,"value":1.70},{"run":"dtime3600","sin_lat":-0.894,"value":1.97},{"run":"dtime3600","sin_lat":-0.868,"value":2.08},{"run":"dtime3600","sin_lat":-0.822,"value":2.55},{"run":"dtime3600","sin_lat":-0.783,"value":2.90},{"run":"dtime3600","sin_lat":-0.750,"value":3.18},{"run":"dtime3600","sin_lat":-0.721,"value":3.31},{"run":"dtime3600","sin_lat":-0.685,"value":3.28},{"run":"dtime3600","sin_lat":-0.649,"value":3.13},{"run":"dtime3600","sin_lat":-0.613,"value":2.75},{"run":"dtime3600","sin_lat":-0.574,"value":2.42},{"run":"dtime3600","sin_lat":-0.534,"value":2.12},{"run":"dtime3600","sin_lat":-0.492,"value":1.95},{"run":"dtime3600","sin_lat":-0.446,"value":1.93},{"run":"dtime3600","sin_lat":-0.404,"value":1.98},{"run":"dtime3600","sin_lat":-0.361,"value":2.06},{"run":"dtime3600","sin_lat":-0.312,"value":2.33},{"run":"dtime3600","sin_lat":-0.266,"value":2.62},{"run":"dtime3600","sin_lat":-0.220,"value":2.98},{"run":"dtime3600","sin_lat":-0.184,"value":3.20},{"run":"dtime3600","sin_lat":-0.125,"value":3.45},{"run":"dtime3600","sin_lat":-0.076,"value":3.82},{"run":"dtime3600","sin_lat":-0.030,"value":3.69},{"run":"dtime3600","sin_lat":0.019,"value":3.78},{"run":"dtime3600","sin_lat":0.041,"value":4.23},{"run":"dtime3600","sin_lat":0.067,"value":5.11},{"run":"dtime3600","sin_lat":0.097,"value":5.78},{"run":"dtime3600","sin_lat":0.120,"value":6.14},{"run":"dtime3600","sin_lat":0.133,"value":6.02},{"run":"dtime3600","sin_lat":0.159,"value":5.26},{"run":"dtime3600","sin_lat":0.192,"value":4.42},{"run":"dtime3600","sin_lat":0.218,"value":3.87},{"run":"dtime3600","sin_lat":0.257,"value":3.51},{"run":"dtime3600","sin_lat":0.277,"value":3.32},{"run":"dtime3600","sin_lat":0.296,"value":3.08},{"run":"dtime3600","sin_lat":0.329,"value":2.69},{"run":"dtime3600","sin_lat":0.362,"value":2.35},{"run":"dtime3600","sin_lat":0.395,"value":2.14},{"run":"dtime3600","sin_lat":0.427,"value":2.04},{"run":"dtime3600","sin_lat":0.467,"value":2.08},{"run":"dtime3600","sin_lat":0.506,"value":2.20},{"run":"dtime3600","sin_lat":0.558,"value":2.48},{"run":"dtime3600","sin_lat":0.598,"value":2.60},{"run":"dtime3600","sin_lat":0.637,"value":2.55},{"run":"dtime3600","sin_lat":0.676,"value":2.43},{"run":"dtime3600","sin_lat":0.715,"value":2.38},{"run":"dtime3600","sin_lat":0.755,"value":2.40},{"run":"dtime3600","sin_lat":0.794,"value":2.41},{"run":"dtime3600","sin_lat":0.833,"value":2.29},{"run":"dtime3600","sin_lat":0.859,"value":2.17},{"run":"dtime3600","sin_lat":0.892,"value":1.93},{"run":"dtime3600","sin_lat":0.925,"value":1.57},{"run":"dtime3600","sin_lat":0.944,"value":1.32},{"run":"dtime3600","sin_lat":0.970,"value":0.90},{"run":"dtime3600","sin_lat":0.995,"value":0.50}
]
},
"hconcat": [
{
  "width": 1019, "height": 770,
  "title": "Zonal mean cloud forcing",
  "data": {"name": "cf"},
  "layer": [
    {
      "mark": {"type": "line", "clip": true, "strokeJoin": "round"},
      "encoding": {
        "x": {"field": "sin_lat", "type": "quantitative", "scale": {"domain": [-1, 1], "nice": false, "zero": false},
              "axis": {"orient": "bottom", "values": [-0.8660254, -0.7071068, -0.5, -0.258819, 0, 0.258819, 0.5, 0.7071068, 0.8660254], "labelExpr": "(round(asin(datum.value)*180/PI) < 0 ? '–' : '') + abs(round(asin(datum.value)*180/PI))", "labelPadding": 18, "title": null}},
        "y": {"field": "value", "type": "quantitative", "scale": {"domain": [-100, 50], "nice": false, "zero": false},
              "axis": {"orient": "left", "values": [-100, -50, 0, 50], "labelExpr": "datum.value < 0 ? '–' + abs(datum.value) : '' + datum.value", "labelPadding": 15, "title": "W/m²", "titlePadding": 7}},
        "color": {"field": "var", "type": "nominal", "scale": {"domain": ["LW", "SW", "net"], "range": ["#ff0000", "#0000ff", "#000000"]}, "legend": null},
        "strokeDash": {"field": "run", "type": "nominal", "scale": {"domain": ["control (dtime1800)", "dtime600", "dtime900", "dtime3600", "CERES–EBAF"], "range": [[1, 0], [14, 9], [14, 8, 2, 8], [2, 7], [1, 0]]},
              "legend": {"legendX": 675, "legendY": 585, "symbolStrokeColor": "black", "title": null}},
        "strokeWidth": {"field": "run", "type": "nominal", "scale": {"type": "ordinal", "domain": ["control (dtime1800)", "dtime600", "dtime900", "dtime3600", "CERES–EBAF"], "range": [2, 2, 2, 2, 5]},
              "legend": {"legendX": 675, "legendY": 585, "symbolStrokeColor": "black", "title": null}}
      }
    },
    {
      "mark": {"type": "point", "opacity": 0},
      "encoding": {
        "x": {"field": "sin_lat", "type": "quantitative", "axis": {"orient": "top", "labels": false, "values": [-0.8660254, -0.7071068, -0.5, -0.258819, 0, 0.258819, 0.5, 0.7071068, 0.8660254], "title": null}},
        "y": {"field": "value", "type": "quantitative", "axis": {"orient": "right", "labels": false, "values": [-100, -50, 0, 50], "title": null}}
      }
    }
  ],
  "resolve": {"axis": {"x": "independent", "y": "independent"}}
},
{
  "width": 1019, "height": 770,
  "title": "Zonal mean rain rate",
  "data": {"name": "rain"},
  "layer": [
    {
      "mark": {"type": "line", "clip": true, "strokeJoin": "round"},
      "encoding": {
        "x": {"field": "sin_lat", "type": "quantitative", "scale": {"domain": [-1, 1], "nice": false, "zero": false},
              "axis": {"orient": "bottom", "values": [-0.8660254, -0.7071068, -0.5, -0.258819, 0, 0.258819, 0.5, 0.7071068, 0.8660254], "labelExpr": "(round(asin(datum.value)*180/PI) < 0 ? '–' : '') + abs(round(asin(datum.value)*180/PI))", "labelPadding": 18, "title": "deg N", "titlePadding": 4}},
        "y": {"field": "value", "type": "quantitative", "scale": {"domain": [0, 7], "nice": false, "zero": false},
              "axis": {"orient": "left", "values": [0, 1, 2, 3, 4, 5, 6, 7], "labelPadding": 15, "title": "mm/day", "titlePadding": 10}},
        "color": {"field": "run", "type": "nominal", "scale": {"domain": ["control (dtime1800)", "dtime600", "dtime900", "dtime3600", "GPCP", "Xie–Arkin"], "range": ["#ff0000", "#ff0000", "#ff0000", "#ff0000", "#808080", "#000000"]},
              "legend": {"legendX": 673, "legendY": 12, "title": null}},
        "strokeDash": {"field": "run", "type": "nominal", "scale": {"domain": ["control (dtime1800)", "dtime600", "dtime900", "dtime3600", "GPCP", "Xie–Arkin"], "range": [[1, 0], [14, 9], [14, 8, 2, 8], [2, 7], [1, 0], [1, 0]]},
              "legend": {"legendX": 673, "legendY": 12, "title": null}},
        "strokeWidth": {"field": "run", "type": "nominal", "scale": {"type": "ordinal", "domain": ["control (dtime1800)", "dtime600", "dtime900", "dtime3600", "GPCP", "Xie–Arkin"], "range": [2, 2, 2, 2, 5, 5]},
              "legend": {"legendX": 673, "legendY": 12, "title": null}}
      }
    },
    {
      "mark": {"type": "point", "opacity": 0},
      "encoding": {
        "x": {"field": "sin_lat", "type": "quantitative", "axis": {"orient": "top", "labels": false, "values": [-0.8660254, -0.7071068, -0.5, -0.258819, 0, 0.258819, 0.5, 0.7071068, 0.8660254], "title": null}},
        "y": {"field": "value", "type": "quantitative", "axis": {"orient": "right", "labels": false, "values": [0, 1, 2, 3, 4, 5, 6, 7], "title": null}}
      }
    }
  ],
  "resolve": {"axis": {"x": "independent", "y": "independent"}}
}
]
}
